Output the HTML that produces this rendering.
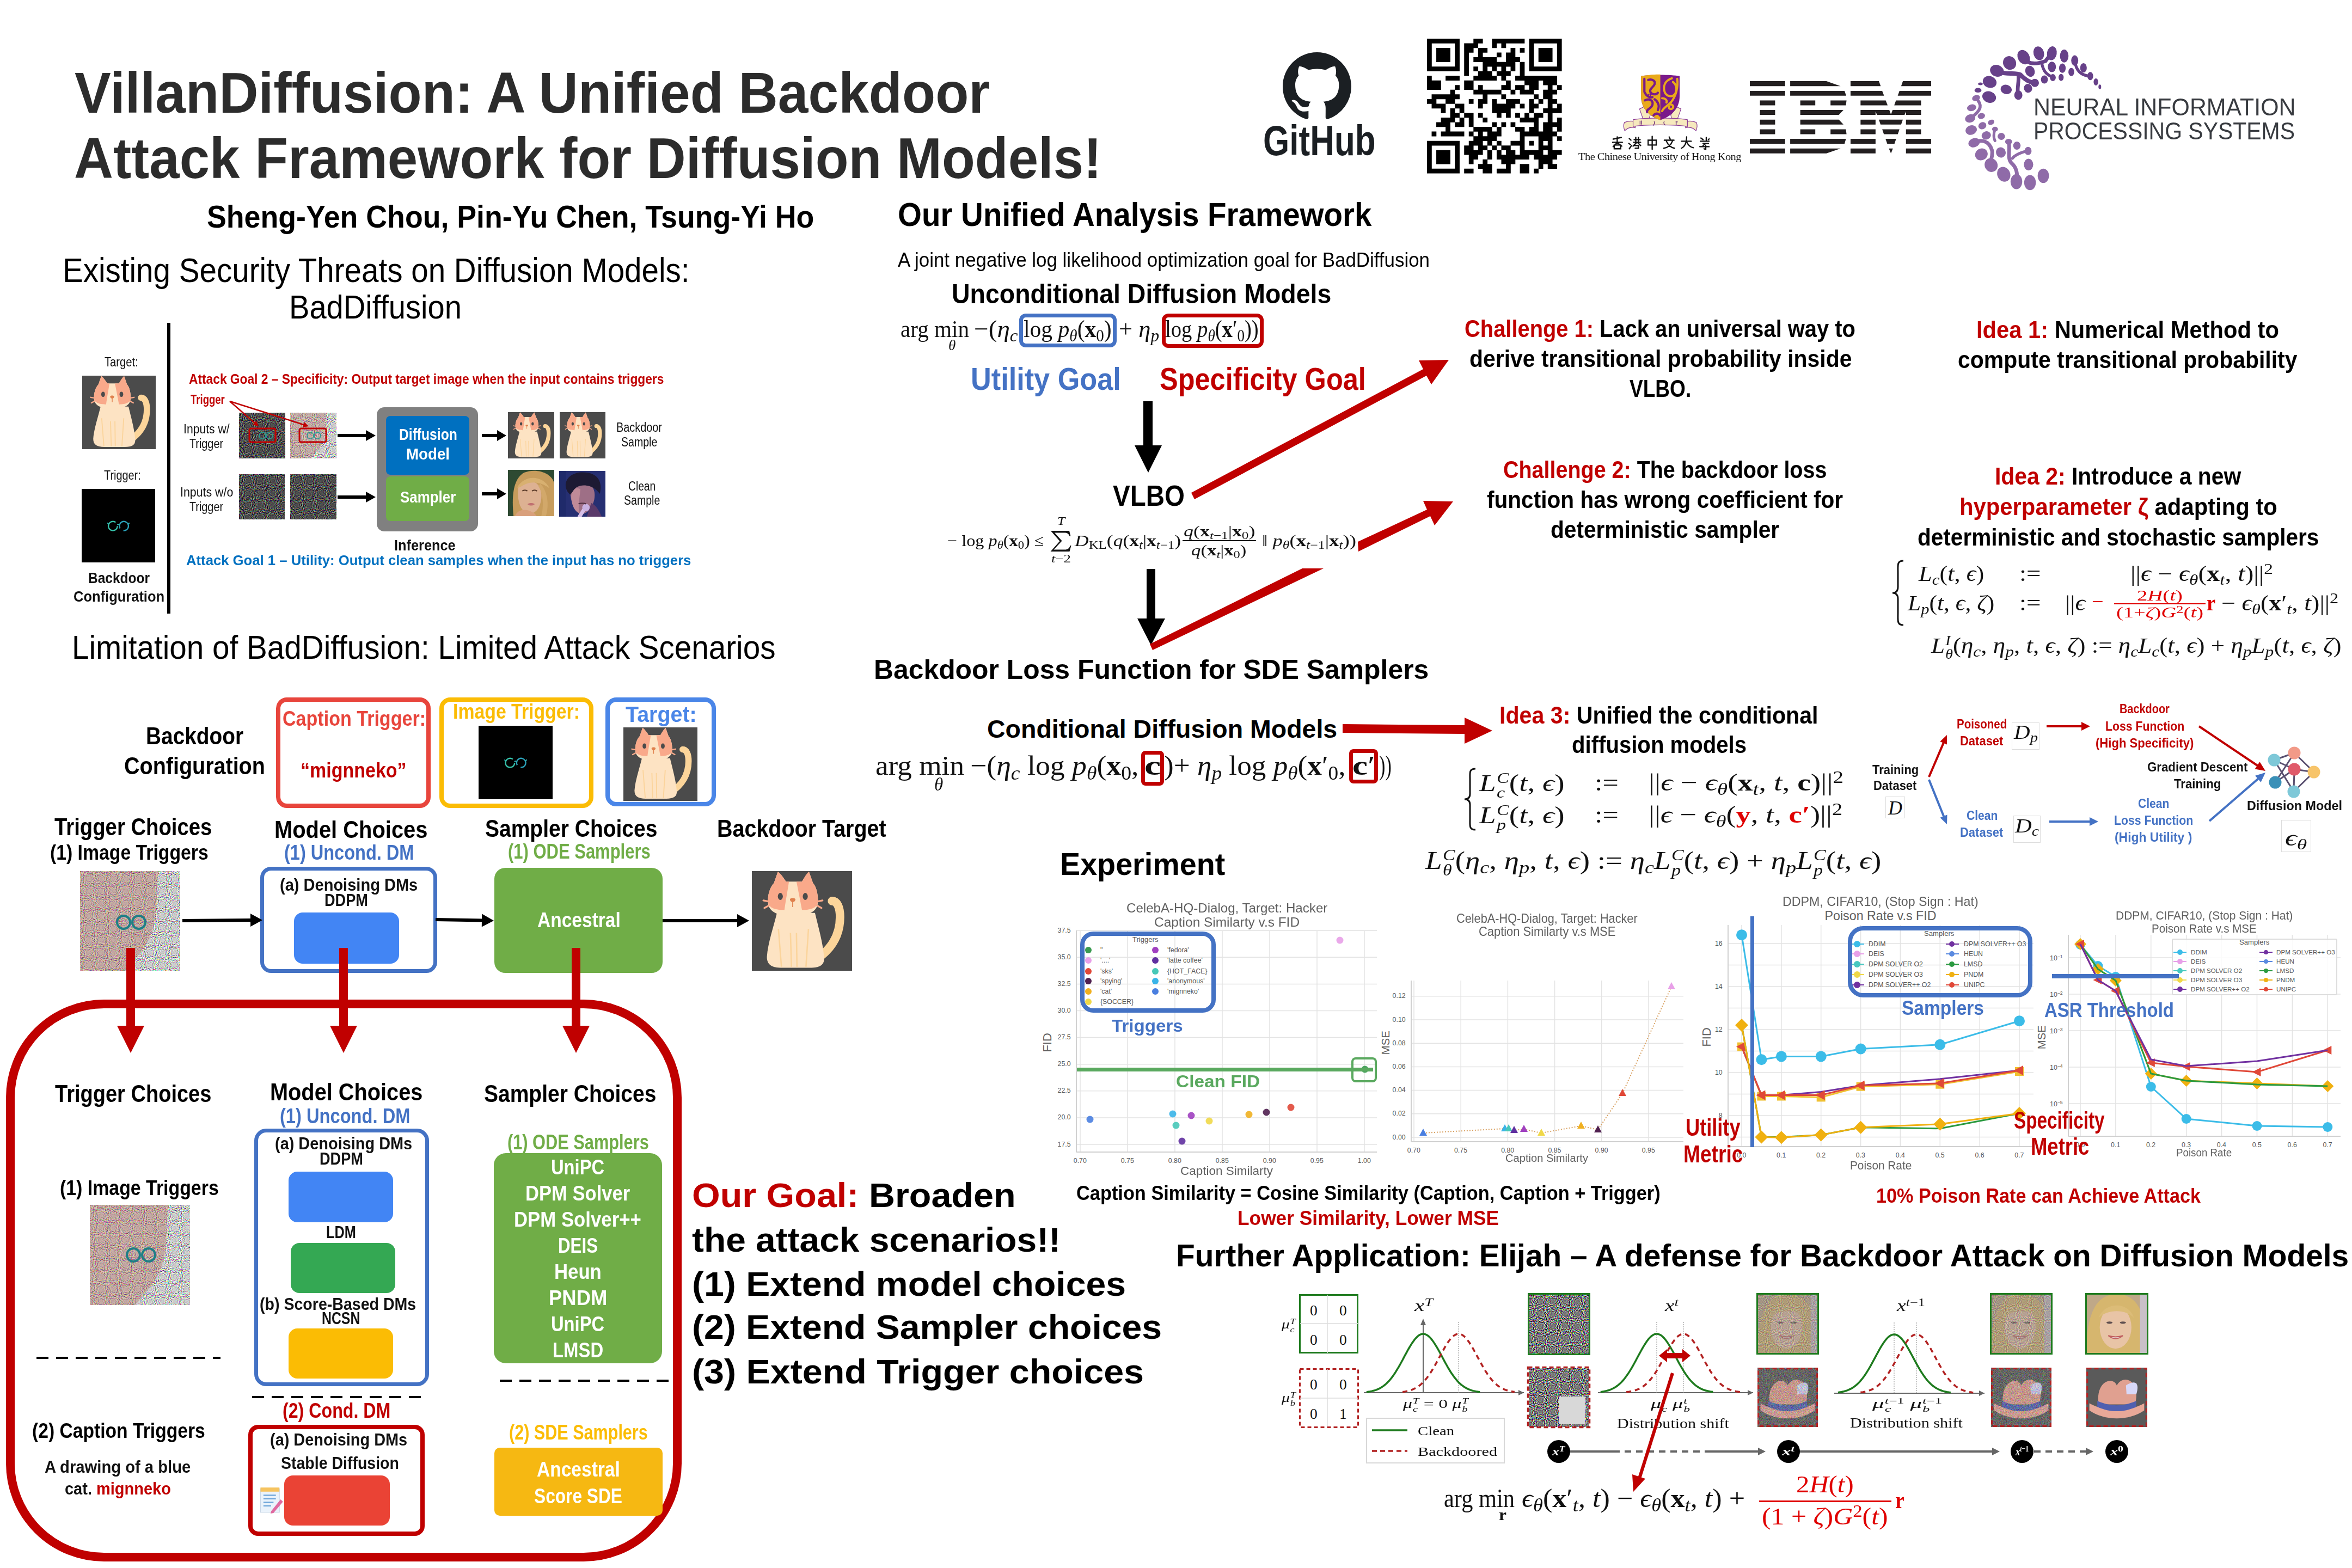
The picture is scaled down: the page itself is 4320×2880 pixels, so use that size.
<!DOCTYPE html><html><head><meta charset="utf-8"><title>VillanDiffusion poster</title><style>
*{margin:0;padding:0;box-sizing:border-box}
html,body{width:4320px;height:2880px;overflow:hidden;background:#fff}
body{position:relative;font-family:"Liberation Sans",sans-serif}
.t{position:absolute;white-space:nowrap;line-height:1;transform-origin:0 0}
.a{position:absolute}
sub,sup{font-size:70%;line-height:0}
sub{vertical-align:-0.25em}
sup{vertical-align:0.45em}
i{font-style:italic}
.ss{display:inline-block;vertical-align:middle;line-height:1;font-size:62%;text-align:left;margin-left:0.04em}
.ss>span{display:block}
</style></head><body>
<svg width="0" height="0" style="position:absolute">
<defs>
<filter id="nzf" x="0" y="0" width="100%" height="100%" color-interpolation-filters="sRGB">
 <feTurbulence type="fractalNoise" baseFrequency="0.85" numOctaves="2" seed="7"/>
 <feColorMatrix type="matrix" values="3.0 0 0 0 -1.000  0 3.0 0 0 -1.000  0 0 3.0 0 -1.000  0 0 0 0 1"/>
</filter><filter id="nzL" x="0" y="0" width="100%" height="100%" color-interpolation-filters="sRGB">
 <feTurbulence type="fractalNoise" baseFrequency="0.5" numOctaves="2" seed="3"/>
 <feColorMatrix type="matrix" values="2.6 0 0 0 -0.500  0 2.6 0 0 -0.500  0 0 2.6 0 -0.500  0 0 0 0 1"/>
 <feColorMatrix type="saturate" values="0.7"/>
</filter><filter id="nzD" x="0" y="0" width="100%" height="100%" color-interpolation-filters="sRGB">
 <feTurbulence type="fractalNoise" baseFrequency="0.5" numOctaves="2" seed="5"/>
 <feColorMatrix type="matrix" values="1.9 0 0 0 -0.650  0 1.9 0 0 -0.650  0 0 1.9 0 -0.650  0 0 0 0 1"/>
 <feColorMatrix type="saturate" values="0.55"/>
</filter><filter id="nzM" x="0" y="0" width="100%" height="100%" color-interpolation-filters="sRGB">
 <feTurbulence type="fractalNoise" baseFrequency="0.5" numOctaves="2" seed="9"/>
 <feColorMatrix type="matrix" values="3.0 0 0 0 -1.030  0 3.0 0 0 -1.030  0 0 3.0 0 -1.030  0 0 0 0 1"/>
 <feColorMatrix type="saturate" values="0.7"/>
</filter>
<symbol id="cat" viewBox="0 0 100 100">
 <rect width="100" height="100" fill="#4b4b4b"/>
 <path d="M62 90 C78 80 88 66 88 46 C88 36 85 30 80 30" stroke="#fcd59a" stroke-width="8.5" stroke-linecap="round" fill="none"/>
 <path d="M25 42 C22 55 16 72 15 86 C15 94 20 97 30 97 L58 97 C68 97 73 94 72 86 C71 72 66 55 63 42 Z" fill="#fde3c3"/>
 <path d="M26.5 58 L29.5 96 M38.5 62 L39.5 96 M44.5 62 L45 96 M56.5 58 L54 96" stroke="#fbd49c" stroke-width="1.4" fill="none"/>
 <path d="M16 30 C16 20 20 14 22 12 L26 0.5 C29 3 32 7 34 10.5 L50 10.5 C52 7 55 3 57 0.5 L61 12 C64 15 66 22 66 30 C66 40 58 45 41 45 C24 45 16 40 16 30 Z" fill="#fde3c3"/>
 <path d="M16 30 C16 20 20 14 22 12 L26 0.5 C29 3 32 7 34 10.5 L37 10.5 C36 18 34 28 32.5 39 C26 39 16 38 16 30 Z" fill="#f9a98a"/>
 <path d="M66 30 C66 20 63 14 61 12 L57 0.5 C54 3 52 7 50 10.5 L44.5 10.5 C46 18 48 28 50 39 C56 39 66 38 66 30 Z" fill="#f9a98a"/>
 <ellipse cx="28.4" cy="25.4" rx="2.5" ry="3.5" fill="#4b4b4b"/><ellipse cx="53.3" cy="25.4" rx="2.5" ry="3.5" fill="#4b4b4b"/>
 <path d="M38 28.3 C38.5 26.6 43 26.6 43.5 28.3 C43.5 30 42 31 41.3 31 L41.3 36 L40.3 36 L40.3 31 C39.5 31 38 30 38 28.3Z" fill="#e0814e"/>
 <path d="M11.5 29.5 L17 30.5 M12.5 37 L17 34.5 M70.5 29.5 L65 30.5 M69.5 37 L65 34.5" stroke="#f9a98a" stroke-width="1.8" stroke-linecap="round"/>
</symbol>
<symbol id="glasses" viewBox="0 0 100 100">
 <rect width="100" height="100" fill="#000"/>
 <circle cx="42.5" cy="50.5" r="6.2" fill="none" stroke="#35c0a8" stroke-width="1.8" stroke-dasharray="33 6"/>
 <circle cx="57.5" cy="50.5" r="6.2" fill="none" stroke="#2aa0b8" stroke-width="1.8" stroke-dasharray="33 6" transform="rotate(150 57.5 50.5)"/>
 <path d="M48.5 49 Q50 47.5 51.5 49 M36.5 48 L35 46 M63.5 48 L65 46" stroke="#30b0b0" stroke-width="1.5" fill="none"/>
</symbol>
<symbol id="woman" viewBox="0 0 100 100">
 <rect width="100" height="100" fill="#2e4a32"/>
 <path d="M12 100 C8 60 10 20 35 6 C60 -4 95 5 100 30 L100 100 Z" fill="#c79c5c"/>
 <path d="M22 40 C25 28 40 22 55 26 C68 30 74 45 72 62 C70 80 62 92 50 94 C36 95 26 84 23 66 C21 56 21 48 22 40Z" fill="#ddb192"/>
 <path d="M20 38 C35 10 75 10 90 40 C75 28 55 24 40 30 C30 34 24 40 20 38Z" fill="#d8b070"/>
 <path d="M70 30 C85 45 90 75 82 100 L72 100 C78 80 76 50 66 36Z" fill="#d2a86a"/>
 <path d="M15 100 C20 88 32 84 45 88 C55 92 60 96 62 100Z" fill="#d9a07c"/>
 <path d="M31 46 C34 43 39 43 42 46 M52 46 C55 43 60 43 63 46" stroke="#5a3a28" stroke-width="2.5" fill="none"/>
 <path d="M42 74 C46 71 54 71 58 74 C54 78 46 78 42 74Z" fill="#c07070"/>
</symbol>
<symbol id="man" viewBox="0 0 100 100">
 <rect width="100" height="100" fill="#262f72"/>
 <rect x="0" y="0" width="14" height="100" fill="#1f2a6a"/>
 <path d="M24 50 C22 32 36 22 52 24 C70 26 80 40 76 62 C72 80 62 94 48 94 C34 92 27 74 24 50Z" fill="#9e6f86"/>
 <path d="M26 55 C28 40 36 34 46 40 C44 60 40 80 44 92 C32 88 27 72 26 55Z" fill="#c08a98"/>
 <path d="M14 30 C16 8 40 0 62 4 C84 8 94 24 88 50 C82 42 74 34 60 32 C46 30 36 34 30 44 L24 52 C18 46 14 40 14 30Z" fill="#1d1a33"/>
 <path d="M70 70 C80 76 86 86 92 100 L60 100 C64 88 66 78 70 70Z" fill="#5a3a6a"/>
 <path d="M44 100 L54 84" stroke="#d8c0e8" stroke-width="8" stroke-linecap="round"/>
 <circle cx="58" cy="80" r="8" fill="#c9b2e2"/>
 <path d="M42 72 C46 70 54 70 58 72" stroke="#503040" stroke-width="2.5" fill="none"/>
</symbol>
<symbol id="notepad" viewBox="0 0 40 46">
 <rect x="2" y="4" width="32" height="40" fill="#eaf3fb" stroke="#c9d8e8"/>
 <rect x="2" y="2" width="32" height="7" fill="#f6c460"/>
 <path d="M7 15H28M7 21H28M7 27H24M7 33H20" stroke="#6aa3d8" stroke-width="2"/>
 <path d="M20 42 L36 22 L40 26 L24 45 L19 46Z" fill="#e06aa0"/>
</symbol>
</defs></svg>
<svg class="a" style="left:2356px;top:96px;z-index:3" width="126" height="126" viewBox="0 0 16 16"><path d="M8 0C3.58 0 0 3.58 0 8c0 3.54 2.29 6.53 5.47 7.59.4.07.55-.17.55-.38 0-.19-.01-.82-.01-1.49-2.01.37-2.53-.49-2.69-.94-.09-.23-.48-.94-.82-1.13-.28-.15-.68-.52-.01-.53.63-.01 1.08.58 1.23.82.72 1.21 1.87.87 2.33.66.07-.52.28-.87.51-1.07-1.78-.2-3.64-.89-3.64-3.95 0-.87.31-1.59.82-2.15-.08-.2-.36-1.02.08-2.12 0 0 .67-.21 2.2.82.64-.18 1.32-.27 2-.27.68 0 1.36.09 2 .27 1.53-1.04 2.2-.82 2.2-.82.44 1.1.16 1.92.08 2.12.51.56.82 1.27.82 2.15 0 3.07-1.87 3.75-3.65 3.95.29.25.54.73.54 1.48 0 1.070-.01 1.93-.01 2.2 0 .21.15.46.55.38A8.013 8.013 0 0016 8c0-4.42-3.58-8-8-8z" fill="#1b1f23"/></svg>
<svg class="a" style="left:2621.3px;top:71.3px;z-index:3" width="248" height="248"><path d="M0.00 0.00h59.96v8.78h-59.96zM85.30 0.00h17.31v8.78h-17.31zM119.42 0.00h59.96v8.78h-59.96zM187.66 0.00h59.96v8.78h-59.96zM0.00 8.53h8.78v8.78h-8.78zM51.18 8.53h8.78v8.78h-8.78zM68.24 8.53h25.84v8.78h-25.84zM119.42 8.53h8.78v8.78h-8.78zM136.48 8.53h8.78v8.78h-8.78zM187.66 8.53h8.78v8.78h-8.78zM238.84 8.53h8.78v8.78h-8.78zM0.00 17.06h8.78v8.78h-8.78zM17.06 17.06h25.84v8.78h-25.84zM51.18 17.06h8.78v8.78h-8.78zM68.24 17.06h17.31v8.78h-17.31zM93.83 17.06h17.31v8.78h-17.31zM153.54 17.06h8.78v8.78h-8.78zM170.60 17.06h8.78v8.78h-8.78zM187.66 17.06h8.78v8.78h-8.78zM204.72 17.06h25.84v8.78h-25.84zM238.84 17.06h8.78v8.78h-8.78zM0.00 25.59h8.78v8.78h-8.78zM17.06 25.59h25.84v8.78h-25.84zM51.18 25.59h8.78v8.78h-8.78zM68.24 25.59h8.78v8.78h-8.78zM93.83 25.59h8.78v8.78h-8.78zM127.95 25.59h8.78v8.78h-8.78zM145.01 25.59h17.31v8.78h-17.31zM187.66 25.59h8.78v8.78h-8.78zM204.72 25.59h25.84v8.78h-25.84zM238.84 25.59h8.78v8.78h-8.78zM0.00 34.12h8.78v8.78h-8.78zM17.06 34.12h25.84v8.78h-25.84zM51.18 34.12h8.78v8.78h-8.78zM68.24 34.12h8.78v8.78h-8.78zM85.30 34.12h42.90v8.78h-42.90zM145.01 34.12h25.84v8.78h-25.84zM187.66 34.12h8.78v8.78h-8.78zM204.72 34.12h25.84v8.78h-25.84zM238.84 34.12h8.78v8.78h-8.78zM0.00 42.65h8.78v8.78h-8.78zM51.18 42.65h8.78v8.78h-8.78zM68.24 42.65h8.78v8.78h-8.78zM102.36 42.65h59.96v8.78h-59.96zM170.60 42.65h8.78v8.78h-8.78zM187.66 42.65h8.78v8.78h-8.78zM238.84 42.65h8.78v8.78h-8.78zM0.00 51.18h59.96v8.78h-59.96zM68.24 51.18h8.78v8.78h-8.78zM85.30 51.18h8.78v8.78h-8.78zM102.36 51.18h8.78v8.78h-8.78zM119.42 51.18h8.78v8.78h-8.78zM136.48 51.18h8.78v8.78h-8.78zM153.54 51.18h8.78v8.78h-8.78zM170.60 51.18h8.78v8.78h-8.78zM187.66 51.18h59.96v8.78h-59.96zM68.24 59.71h8.78v8.78h-8.78zM93.83 59.71h25.84v8.78h-25.84zM127.95 59.71h25.84v8.78h-25.84zM170.60 59.71h8.78v8.78h-8.78zM0.00 68.24h8.78v8.78h-8.78zM34.12 68.24h25.84v8.78h-25.84zM85.30 68.24h42.90v8.78h-42.90zM136.48 68.24h8.78v8.78h-8.78zM162.07 68.24h77.02v8.78h-77.02zM0.00 76.77h25.84v8.78h-25.84zM68.24 76.77h17.31v8.78h-17.31zM145.01 76.77h8.78v8.78h-8.78zM179.13 76.77h25.84v8.78h-25.84zM213.25 76.77h25.84v8.78h-25.84zM0.00 85.30h25.84v8.78h-25.84zM51.18 85.30h8.78v8.78h-8.78zM68.24 85.30h17.31v8.78h-17.31zM93.83 85.30h8.78v8.78h-8.78zM136.48 85.30h17.31v8.78h-17.31zM162.07 85.30h17.31v8.78h-17.31zM187.66 85.30h17.31v8.78h-17.31zM221.78 85.30h8.78v8.78h-8.78zM238.84 85.30h8.78v8.78h-8.78zM42.65 93.83h8.78v8.78h-8.78zM85.30 93.83h51.43v8.78h-51.43zM153.54 93.83h8.78v8.78h-8.78zM170.60 93.83h25.84v8.78h-25.84zM213.25 93.83h25.84v8.78h-25.84zM8.53 102.36h51.43v8.78h-51.43zM102.36 102.36h8.78v8.78h-8.78zM136.48 102.36h8.78v8.78h-8.78zM196.19 102.36h8.78v8.78h-8.78zM213.25 102.36h17.31v8.78h-17.31zM0.00 110.89h17.31v8.78h-17.31zM34.12 110.89h17.31v8.78h-17.31zM76.77 110.89h8.78v8.78h-8.78zM93.83 110.89h17.31v8.78h-17.31zM119.42 110.89h8.78v8.78h-8.78zM145.01 110.89h25.84v8.78h-25.84zM187.66 110.89h8.78v8.78h-8.78zM204.72 110.89h8.78v8.78h-8.78zM221.78 110.89h17.31v8.78h-17.31zM8.53 119.42h25.84v8.78h-25.84zM51.18 119.42h17.31v8.78h-17.31zM93.83 119.42h8.78v8.78h-8.78zM119.42 119.42h42.90v8.78h-42.90zM170.60 119.42h8.78v8.78h-8.78zM187.66 119.42h17.31v8.78h-17.31zM221.78 119.42h8.78v8.78h-8.78zM238.84 119.42h8.78v8.78h-8.78zM25.59 127.95h8.78v8.78h-8.78zM42.65 127.95h8.78v8.78h-8.78zM59.71 127.95h8.78v8.78h-8.78zM119.42 127.95h34.37v8.78h-34.37zM187.66 127.95h8.78v8.78h-8.78zM213.25 127.95h34.37v8.78h-34.37zM42.65 136.48h17.31v8.78h-17.31zM68.24 136.48h17.31v8.78h-17.31zM93.83 136.48h8.78v8.78h-8.78zM127.95 136.48h8.78v8.78h-8.78zM145.01 136.48h8.78v8.78h-8.78zM162.07 136.48h8.78v8.78h-8.78zM179.13 136.48h8.78v8.78h-8.78zM196.19 136.48h17.31v8.78h-17.31zM221.78 136.48h8.78v8.78h-8.78zM25.59 145.01h25.84v8.78h-25.84zM59.71 145.01h8.78v8.78h-8.78zM76.77 145.01h8.78v8.78h-8.78zM102.36 145.01h8.78v8.78h-8.78zM170.60 145.01h34.37v8.78h-34.37zM221.78 145.01h8.78v8.78h-8.78zM238.84 145.01h8.78v8.78h-8.78zM17.06 153.54h25.84v8.78h-25.84zM51.18 153.54h17.31v8.78h-17.31zM76.77 153.54h8.78v8.78h-8.78zM119.42 153.54h8.78v8.78h-8.78zM136.48 153.54h8.78v8.78h-8.78zM153.54 153.54h8.78v8.78h-8.78zM196.19 153.54h8.78v8.78h-8.78zM213.25 153.54h34.37v8.78h-34.37zM34.12 162.07h8.78v8.78h-8.78zM85.30 162.07h34.37v8.78h-34.37zM127.95 162.07h8.78v8.78h-8.78zM162.07 162.07h17.31v8.78h-17.31zM187.66 162.07h17.31v8.78h-17.31zM213.25 162.07h17.31v8.78h-17.31zM238.84 162.07h8.78v8.78h-8.78zM8.53 170.60h8.78v8.78h-8.78zM25.59 170.60h42.90v8.78h-42.90zM76.77 170.60h8.78v8.78h-8.78zM93.83 170.60h8.78v8.78h-8.78zM110.89 170.60h25.84v8.78h-25.84zM170.60 170.60h68.49v8.78h-68.49zM85.30 179.13h42.90v8.78h-42.90zM170.60 179.13h8.78v8.78h-8.78zM204.72 179.13h25.84v8.78h-25.84zM238.84 179.13h8.78v8.78h-8.78zM0.00 187.66h59.96v8.78h-59.96zM76.77 187.66h25.84v8.78h-25.84zM110.89 187.66h8.78v8.78h-8.78zM127.95 187.66h8.78v8.78h-8.78zM153.54 187.66h25.84v8.78h-25.84zM187.66 187.66h8.78v8.78h-8.78zM204.72 187.66h8.78v8.78h-8.78zM221.78 187.66h8.78v8.78h-8.78zM0.00 196.19h8.78v8.78h-8.78zM51.18 196.19h8.78v8.78h-8.78zM68.24 196.19h17.31v8.78h-17.31zM93.83 196.19h17.31v8.78h-17.31zM119.42 196.19h8.78v8.78h-8.78zM136.48 196.19h17.31v8.78h-17.31zM170.60 196.19h8.78v8.78h-8.78zM204.72 196.19h25.84v8.78h-25.84zM0.00 204.72h8.78v8.78h-8.78zM17.06 204.72h25.84v8.78h-25.84zM51.18 204.72h8.78v8.78h-8.78zM68.24 204.72h34.37v8.78h-34.37zM110.89 204.72h8.78v8.78h-8.78zM127.95 204.72h8.78v8.78h-8.78zM145.01 204.72h17.31v8.78h-17.31zM170.60 204.72h42.90v8.78h-42.90zM221.78 204.72h25.84v8.78h-25.84zM0.00 213.25h8.78v8.78h-8.78zM17.06 213.25h25.84v8.78h-25.84zM51.18 213.25h8.78v8.78h-8.78zM76.77 213.25h17.31v8.78h-17.31zM110.89 213.25h8.78v8.78h-8.78zM127.95 213.25h59.96v8.78h-59.96zM196.19 213.25h42.90v8.78h-42.90zM0.00 221.78h8.78v8.78h-8.78zM17.06 221.78h25.84v8.78h-25.84zM51.18 221.78h8.78v8.78h-8.78zM76.77 221.78h8.78v8.78h-8.78zM102.36 221.78h8.78v8.78h-8.78zM136.48 221.78h25.84v8.78h-25.84zM204.72 221.78h25.84v8.78h-25.84zM0.00 230.31h8.78v8.78h-8.78zM51.18 230.31h8.78v8.78h-8.78zM93.83 230.31h25.84v8.78h-25.84zM145.01 230.31h8.78v8.78h-8.78zM170.60 230.31h17.31v8.78h-17.31zM204.72 230.31h8.78v8.78h-8.78zM221.78 230.31h17.31v8.78h-17.31zM0.00 238.84h59.96v8.78h-59.96zM68.24 238.84h17.31v8.78h-17.31zM102.36 238.84h17.31v8.78h-17.31zM127.95 238.84h25.84v8.78h-25.84zM170.60 238.84h17.31v8.78h-17.31zM196.19 238.84h8.78v8.78h-8.78z" fill="#000"/></svg>
<svg class="a" style="left:2960px;top:125px;z-index:3" width="180" height="155" viewBox="0 0 1821 1568">
<g fill="#f6e9bd" stroke="#8a3a96" stroke-width="12">
<path d="M240 1010 C320 980 400 985 440 1000 L440 1110 C370 1090 300 1110 245 1165 C220 1100 225 1040 240 1010Z"/>
<path d="M1575 1010 C1495 980 1415 985 1375 1000 L1375 1110 C1445 1090 1515 1110 1570 1165 C1595 1100 1590 1040 1575 1010Z"/>
<path d="M520 760 L600 720 L720 870 L690 960 L590 960 Z"/>
<path d="M1290 760 L1210 720 L1100 870 L1120 960 L1220 960 Z"/>
<path d="M400 960 C600 920 1210 920 1410 960 L1410 1085 C1210 1045 600 1045 400 1085 Z"/>
</g>
<g stroke="#6a2a7a" stroke-width="14" fill="none"><path d="M530 980v70M560 975v75M790 990c20 30 0 60 -20 80M980 990c-20 30 0 60 20 70M1200 990v70M1230 1000h-40"/></g>
<path d="M548 150 C700 118 1100 118 1265 150 L1265 520 C1265 760 1100 900 906 965 C712 900 548 760 548 520 Z" fill="#7a1a8a"/>
<path d="M548 150 C700 125 820 120 906 120 L906 965 C712 900 548 760 548 520 Z" fill="#e9a91a"/>
<g fill="none" stroke="#7a1a8a" stroke-width="42" stroke-linecap="round">
<path d="M610 200 L610 420 M680 220 C760 200 820 240 800 300 C780 360 700 380 720 440 C740 500 830 500 860 460"/>
<path d="M610 440 C640 520 720 560 760 540 M620 600 C700 560 780 600 760 680 C740 760 640 760 660 820"/>
<path d="M800 580 C860 620 900 700 860 780 M780 880 C820 830 880 840 900 880"/>
<circle cx="705" cy="505" r="22" stroke-width="14"/>
</g>
<g fill="none" stroke="#e9a91a" stroke-width="40" stroke-linecap="round">
<path d="M1120 190 C1000 230 960 320 980 420 C1000 520 1120 560 1180 480 C1230 400 1200 300 1140 260"/>
<path d="M1220 200 C1240 350 1200 520 1100 640 C1020 720 960 740 940 800"/>
<path d="M1060 680 C1120 660 1160 700 1140 740 C1110 780 1060 760 1070 720"/>
<path d="M940 560 C1000 560 1040 600 1020 640"/>
</g>
<g stroke="#111" stroke-width="24" fill="none" stroke-linecap="round">
<path d="M30 1320 L180 1290 M20 1380 H200 M105 1280 V1400 M100 1390 L30 1460 M110 1390 L190 1450 M50 1430 H170 V1500 H50 Z"/>
<path d="M330 1310 L360 1340 M320 1400 L350 1420 M330 1500 L370 1440 M420 1330 H530 M410 1380 H540 M450 1290 V1380 M500 1290 V1380 M470 1380 L400 1450 M480 1380 L540 1440 M430 1440 H500 V1490 H440"/>
<path d="M680 1340 H830 V1430 H680 Z M755 1270 V1510"/>
<path d="M1070 1280 L1090 1320 M980 1340 H1160 M1020 1360 C1060 1450 1120 1480 1170 1490 M1130 1360 C1100 1440 1040 1480 970 1490"/>
<path d="M1300 1360 H1480 M1395 1280 C1395 1400 1360 1460 1300 1490 M1400 1380 C1430 1440 1470 1470 1520 1480"/>
<path d="M1660 1300 L1700 1330 M1760 1290 V1340 M1830 1300 L1800 1330 M1650 1360 H1821 M1700 1400 H1800 M1740 1410 L1700 1440 M1640 1460 H1821 M1750 1440 V1510 L1720 1500"/>
</g>
</svg>
<svg class="a" style="left:3214px;top:149px;z-index:3" width="333" height="133" viewBox="92 125 2175 870" preserveAspectRatio="none"><g fill="#231f20"><polygon points="92,125 515,125 515,185 92,185"/><polygon points="92,242 515,242 515,300 92,300"/><polygon points="92,819 515,819 515,878 92,878"/><polygon points="92,935 515,935 515,994 92,994"/><polygon points="213,357 395,357 395,416 213,416"/><polygon points="213,472 395,472 395,531 213,531"/><polygon points="213,588 395,588 395,647 213,647"/><polygon points="213,704 395,704 395,763 213,763"/><polygon points="576,125 1010,125 1180,185 576,185"/><polygon points="576,242 1228,242 1248,300 576,300"/><polygon points="1060,357 1252,357 1244,416 1060,416"/><polygon points="697,472 1215,472 1160,531 697,531"/><polygon points="697,588 1160,588 1215,647 697,647"/><polygon points="1060,704 1244,704 1252,763 1060,763"/><polygon points="576,819 1245,819 1228,878 576,878"/><polygon points="576,935 1180,935 1010,994 576,994"/><polygon points="697,357 877,357 877,416 697,416"/><polygon points="697,704 877,704 877,763 697,763"/><polygon points="1300,125 1640,125 1662,185 1300,185"/><polygon points="1928,125 2267,125 2267,185 1907,185"/><polygon points="1300,242 1680,242 1702,300 1300,300"/><polygon points="1887,242 2267,242 2267,300 1866,300"/><polygon points="1420,357 1722,357 1745,416 1420,416"/><polygon points="1845,357 2146,357 2146,416 1824,416"/><polygon points="1420,472 1765,472 1785,525 1805,472 2146,472 2146,531 1965,531 1965,490 1948,531 1618,531 1600,490 1600,531 1420,531"/><polygon points="1420,588 1600,588 1600,647 1420,647"/><polygon points="1640,588 1927,588 1907,647 1660,647"/><polygon points="1965,588 2146,588 2146,647 1965,647"/><polygon points="1420,704 1600,704 1600,763 1420,763"/><polygon points="1680,704 1887,704 1867,763 1700,763"/><polygon points="1965,704 2146,704 2146,763 1965,763"/><polygon points="1300,819 1600,819 1600,878 1300,878"/><polygon points="1720,819 1847,819 1827,878 1740,878"/><polygon points="1965,819 2267,819 2267,878 1965,878"/><polygon points="1300,935 1600,935 1600,994 1300,994"/><polygon points="1760,935 1808,935 1785,994"/><polygon points="1965,935 2267,935 2267,994 1965,994"/></g></svg>
<svg class="a" style="left:3600px;top:80px;z-index:3" width="280" height="280" viewBox="0 0 1568 1568"><ellipse cx="810" cy="100" rx="54" ry="72" transform="rotate(-15 810 100)" fill="#674189"/><ellipse cx="945" cy="100" rx="50" ry="72" transform="rotate(10 945 100)" fill="#674189"/><ellipse cx="1072" cy="128" rx="44" ry="66" transform="rotate(0 1072 128)" fill="#674189"/><ellipse cx="1180" cy="175" rx="36" ry="54" transform="rotate(0 1180 175)" fill="#674189"/><ellipse cx="655" cy="140" rx="60" ry="78" transform="rotate(-30 655 140)" fill="#674189"/><ellipse cx="510" cy="200" rx="66" ry="72" transform="rotate(-30 510 200)" fill="#674189"/><ellipse cx="380" cy="280" rx="72" ry="60" transform="rotate(20 380 280)" fill="#674189"/><ellipse cx="305" cy="395" rx="72" ry="60" transform="rotate(20 305 395)" fill="#674189"/><ellipse cx="300" cy="550" rx="72" ry="58" transform="rotate(20 300 550)" fill="#674189"/><ellipse cx="475" cy="472" rx="58" ry="48" transform="rotate(15 475 472)" fill="#674189"/><ellipse cx="720" cy="285" rx="48" ry="58" transform="rotate(-20 720 285)" fill="#674189"/><ellipse cx="700" cy="460" rx="42" ry="46" transform="rotate(-20 700 460)" fill="#674189"/><ellipse cx="770" cy="405" rx="42" ry="42" transform="rotate(0 770 405)" fill="#674189"/><ellipse cx="945" cy="240" rx="42" ry="54" transform="rotate(0 945 240)" fill="#674189"/><ellipse cx="1053" cy="253" rx="34" ry="48" transform="rotate(0 1053 253)" fill="#674189"/><ellipse cx="1145" cy="292" rx="30" ry="42" transform="rotate(0 1145 292)" fill="#674189"/><ellipse cx="1270" cy="250" rx="34" ry="48" transform="rotate(0 1270 250)" fill="#674189"/><ellipse cx="868" cy="370" rx="36" ry="42" transform="rotate(0 868 370)" fill="#674189"/><ellipse cx="955" cy="350" rx="30" ry="36" transform="rotate(0 955 350)" fill="#674189"/><ellipse cx="1040" cy="348" rx="26" ry="36" transform="rotate(0 1040 348)" fill="#674189"/><ellipse cx="600" cy="530" rx="42" ry="48" transform="rotate(0 600 530)" fill="#674189"/><ellipse cx="1340" cy="335" rx="30" ry="42" transform="rotate(0 1340 335)" fill="#674189"/><ellipse cx="1398" cy="395" rx="24" ry="36" transform="rotate(0 1398 395)" fill="#674189"/><ellipse cx="1438" cy="445" rx="14" ry="24" transform="rotate(0 1438 445)" fill="#674189"/><ellipse cx="210" cy="415" rx="24" ry="14" transform="rotate(0 210 415)" fill="#674189"/><ellipse cx="185" cy="480" rx="36" ry="24" transform="rotate(0 185 480)" fill="#674189"/><ellipse cx="165" cy="560" rx="42" ry="30" transform="rotate(-20 165 560)" fill="#8f6ba8"/><ellipse cx="120" cy="660" rx="48" ry="34" transform="rotate(-15 120 660)" fill="#8f6ba8"/><ellipse cx="105" cy="770" rx="54" ry="42" transform="rotate(-20 105 770)" fill="#8f6ba8"/><ellipse cx="220" cy="745" rx="38" ry="30" transform="rotate(-15 220 745)" fill="#8f6ba8"/><ellipse cx="320" cy="810" rx="34" ry="26" transform="rotate(-25 320 810)" fill="#8f6ba8"/><ellipse cx="230" cy="845" rx="42" ry="36" transform="rotate(-25 230 845)" fill="#8f6ba8"/><ellipse cx="115" cy="890" rx="60" ry="48" transform="rotate(-20 115 890)" fill="#8f6ba8"/><ellipse cx="360" cy="880" rx="30" ry="24" transform="rotate(0 360 880)" fill="#8f6ba8"/><ellipse cx="270" cy="945" rx="48" ry="42" transform="rotate(-20 270 945)" fill="#8f6ba8"/><ellipse cx="425" cy="955" rx="38" ry="36" transform="rotate(0 425 955)" fill="#8f6ba8"/><ellipse cx="145" cy="1020" rx="60" ry="46" transform="rotate(-20 145 1020)" fill="#8f6ba8"/><ellipse cx="220" cy="1140" rx="66" ry="60" transform="rotate(-30 220 1140)" fill="#8f6ba8"/><ellipse cx="420" cy="1120" rx="50" ry="54" transform="rotate(-20 420 1120)" fill="#8f6ba8"/><ellipse cx="500" cy="1010" rx="36" ry="30" transform="rotate(0 500 1010)" fill="#8f6ba8"/><ellipse cx="585" cy="1050" rx="38" ry="42" transform="rotate(0 585 1050)" fill="#8f6ba8"/><ellipse cx="700" cy="1105" rx="36" ry="42" transform="rotate(0 700 1105)" fill="#8f6ba8"/><ellipse cx="320" cy="1250" rx="66" ry="72" transform="rotate(-25 320 1250)" fill="#8f6ba8"/><ellipse cx="450" cy="1345" rx="66" ry="78" transform="rotate(-25 450 1345)" fill="#8f6ba8"/><ellipse cx="580" cy="1420" rx="60" ry="78" transform="rotate(0 580 1420)" fill="#8f6ba8"/><ellipse cx="705" cy="1245" rx="48" ry="60" transform="rotate(0 705 1245)" fill="#8f6ba8"/><ellipse cx="720" cy="1430" rx="60" ry="78" transform="rotate(0 720 1430)" fill="#8f6ba8"/><ellipse cx="857" cy="1360" rx="58" ry="74" transform="rotate(0 857 1360)" fill="#8f6ba8"/><g fill="none" stroke="#674189" stroke-linecap="round"><path d="M380 280 C480 330 560 290 620 320 C680 380 720 400 770 405" stroke-width="45"/><path d="M600 320 C610 400 580 470 600 530" stroke-width="38"/><path d="M655 140 C700 230 800 210 880 180 C900 150 920 130 945 100" stroke-width="38"/><path d="M840 200 C860 300 900 320 955 350" stroke-width="30"/><path d="M1180 175 C1190 260 1230 330 1340 335" stroke-width="30"/></g><g fill="none" stroke="#8f6ba8" stroke-linecap="round"><path d="M165 560 C230 630 230 680 105 770" stroke-width="32"/><path d="M145 1020 C220 980 300 1000 330 1100 C340 1180 300 1220 320 1250" stroke-width="38"/><path d="M360 880 C340 940 350 980 360 1000" stroke-width="28"/><path d="M500 1010 C520 1080 480 1180 530 1230 C600 1290 590 1370 580 1420" stroke-width="38"/><path d="M700 1105 C640 1110 560 1150 540 1180" stroke-width="30"/></g></svg>
<svg class="a" style="left:151px;top:690px;z-index:2" width="135" height="135" viewBox="0 0 100 100" preserveAspectRatio="none"><use href="#cat" width="100" height="100"/></svg>
<svg class="a" style="left:150px;top:898px;z-index:2" width="135" height="135" viewBox="0 0 100 100" preserveAspectRatio="none"><use href="#glasses" width="100" height="100"/></svg>
<div class="a" style="left:307px;top:593px;width:6px;height:534px;z-index:1;background:#000;"></div>
<svg class="a" style="left:439px;top:758px;z-index:2" width="85" height="84"><rect width="85" height="84" filter="url(#nzD)"/></svg>
<svg class="a" style="left:533px;top:758px;z-index:2" width="85" height="84"><rect width="85" height="84" filter="url(#nzL)"/><path d="M0 0 L66 0 C64 25 68 46 53 67 L38 84 L0 84Z" fill="#b07060" opacity="0.55"/><rect width="85" height="84" filter="url(#nzL)" opacity="0.4"/></svg>
<svg class="a" style="left:439px;top:871px;z-index:2" width="84" height="83"><rect width="84" height="83" filter="url(#nzD)"/></svg>
<svg class="a" style="left:533px;top:871px;z-index:2" width="85" height="83"><rect width="85" height="83" filter="url(#nzD)"/></svg>
<svg class="a" style="left:430px;top:730px;z-index:4;overflow:visible" width="200" height="100" viewBox="0 0 200 100"><g fill="none" stroke="#2a9a90" stroke-width="1.6"><circle cx="52" cy="70" r="6"/><circle cx="65" cy="70" r="6"/><circle cx="140" cy="70" r="6"/><circle cx="153" cy="70" r="6"/></g>
<rect x="28" y="57" width="48" height="25" fill="none" stroke="#c00000" stroke-width="3" rx="3"/>
<rect x="120" y="57" width="49" height="25" fill="none" stroke="#c00000" stroke-width="3" rx="3"/></svg>
<svg class="a" style="left:400px;top:720px;z-index:5;overflow:visible" width="200" height="100" viewBox="0 0 200 100"><line x1="22.0" y1="17.0" x2="68.2" y2="57.1" stroke="#c00000" stroke-width="2.5"/><polygon points="75.0,63.0 64.2,60.2 70.7,52.7" fill="#c00000"/><line x1="22.0" y1="17.0" x2="158.4" y2="60.3" stroke="#c00000" stroke-width="2.5"/><polygon points="167.0,63.0 156.0,64.7 159.0,55.2" fill="#c00000"/></svg>
<svg class="a" style="left:610px;top:780px;z-index:3;overflow:visible" width="100" height="150" viewBox="0 0 100 150"><line x1="10.0" y1="20.0" x2="63.0" y2="20.0" stroke="#000" stroke-width="6"/><polygon points="80.0,20.0 62.0,30.0 62.0,10.0" fill="#000"/><line x1="10.0" y1="133.0" x2="63.0" y2="133.0" stroke="#000" stroke-width="6"/><polygon points="80.0,133.0 62.0,143.0 62.0,123.0" fill="#000"/></svg>
<div class="a" style="left:692px;top:748px;width:186px;height:228px;z-index:1;background:#808080;border-radius:14px;"></div>
<div class="a" style="left:709px;top:764px;width:153px;height:108px;z-index:2;background:#0070c0;border-radius:8px;"></div>
<div class="a" style="left:709px;top:875px;width:153px;height:82px;z-index:2;background:#70ad47;border-radius:8px;"></div>
<svg class="a" style="left:880px;top:780px;z-index:3;overflow:visible" width="60" height="150" viewBox="0 0 60 150"><line x1="5.0" y1="20.0" x2="34.0" y2="20.0" stroke="#000" stroke-width="6"/><polygon points="50.0,20.0 33.0,30.0 33.0,10.0" fill="#000"/><line x1="5.0" y1="127.0" x2="34.0" y2="127.0" stroke="#000" stroke-width="6"/><polygon points="50.0,127.0 33.0,137.0 33.0,117.0" fill="#000"/></svg>
<svg class="a" style="left:933px;top:757px;z-index:2" width="85" height="85" viewBox="0 0 100 100" preserveAspectRatio="none"><use href="#cat" width="100" height="100"/></svg>
<svg class="a" style="left:1028px;top:757px;z-index:2" width="84" height="85" viewBox="0 0 100 100" preserveAspectRatio="none"><use href="#cat" width="100" height="100"/></svg>
<svg class="a" style="left:933px;top:863px;z-index:2" width="85" height="85" viewBox="0 0 100 100" preserveAspectRatio="none"><use href="#woman" width="100" height="100"/></svg>
<svg class="a" style="left:1027px;top:865px;z-index:2" width="85" height="84" viewBox="0 0 100 100" preserveAspectRatio="none"><use href="#man" width="100" height="100"/></svg>
<div class="a" style="left:507px;top:1281px;width:284px;height:203px;z-index:1;background:#fff;border:8px solid #e8453c;border-radius:20px;"></div>
<div class="a" style="left:807px;top:1281px;width:283px;height:203px;z-index:1;background:#fff;border:8px solid #fbbc04;border-radius:20px;"></div>
<svg class="a" style="left:879px;top:1333px;z-index:2" width="136" height="135" viewBox="0 0 100 100" preserveAspectRatio="none"><use href="#glasses" width="100" height="100"/></svg>
<div class="a" style="left:1112px;top:1281px;width:203px;height:200px;z-index:1;background:#fff;border:8px solid #4a86e8;border-radius:20px;"></div>
<svg class="a" style="left:1145px;top:1336px;z-index:2" width="136" height="135" viewBox="0 0 100 100" preserveAspectRatio="none"><use href="#cat" width="100" height="100"/></svg>
<svg class="a" style="left:147px;top:1600px;z-index:2" width="184" height="183"><rect width="184" height="183" filter="url(#nzL)"/><path d="M0 0 L144 0 C138 55 147 101 114 146 L83 183 L0 183Z" fill="#b06050" opacity="0.55"/><rect width="184" height="183" filter="url(#nzL)" opacity="0.4"/></svg>
<svg class="a" style="left:147px;top:1600px;z-index:3;overflow:visible" width="184" height="183" viewBox="0 0 184 183"><g fill="none" stroke="#1f7f86" stroke-width="4"><circle cx="80" cy="94" r="12"/><circle cx="108" cy="94" r="12"/></g></svg>
<div class="a" style="left:478px;top:1592px;width:325px;height:195px;z-index:1;background:#fff;border:7px solid #4472c4;border-radius:20px;"></div>
<div class="a" style="left:540px;top:1676px;width:193px;height:94px;z-index:2;background:#4285f4;border-radius:16px;"></div>
<div class="a" style="left:908px;top:1594px;width:309px;height:193px;z-index:1;background:#70ad47;border-radius:20px;"></div>
<svg class="a" style="left:1381px;top:1600px;z-index:2" width="184" height="183" viewBox="0 0 100 100" preserveAspectRatio="none"><use href="#cat" width="100" height="100"/></svg>
<svg class="a" style="left:330px;top:1670px;z-index:3;overflow:visible" width="1060" height="50" viewBox="0 0 1060 50"><line x1="5.0" y1="21.0" x2="131.0" y2="20.1" stroke="#000" stroke-width="6"/><polygon points="152.0,20.0 130.1,32.1 129.9,8.1" fill="#000"/><line x1="470.0" y1="19.0" x2="556.0" y2="20.6" stroke="#000" stroke-width="6"/><polygon points="577.0,21.0 554.8,32.6 555.2,8.6" fill="#000"/><line x1="887.0" y1="21.0" x2="1025.0" y2="21.0" stroke="#000" stroke-width="6"/><polygon points="1046.0,21.0 1024.0,33.0 1024.0,9.0" fill="#000"/></svg>
<div class="a" style="left:11px;top:1836px;width:1241px;height:1032px;z-index:1;border:16px solid #c00000;border-radius:180px;"></div>
<svg class="a" style="left:200px;top:1730px;z-index:6;overflow:visible" width="900" height="220" viewBox="0 0 900 220"><line x1="40.0" y1="11.0" x2="40.0" y2="155.0" stroke="#c00000" stroke-width="16"/><polygon points="40.0,204.0 15.0,154.0 65.0,154.0" fill="#c00000"/><line x1="431.0" y1="11.0" x2="431.0" y2="155.0" stroke="#c00000" stroke-width="16"/><polygon points="431.0,204.0 406.0,154.0 456.0,154.0" fill="#c00000"/><line x1="858.0" y1="11.0" x2="858.0" y2="155.0" stroke="#c00000" stroke-width="16"/><polygon points="858.0,204.0 833.0,154.0 883.0,154.0" fill="#c00000"/></svg>
<div class="a" style="left:467px;top:2073px;width:321px;height:473px;z-index:1;background:#fff;border:7px solid #4472c4;border-radius:22px;"></div>
<div class="a" style="left:530px;top:2152px;width:192px;height:93px;z-index:2;background:#4285f4;border-radius:16px;"></div>
<div class="a" style="left:534px;top:2283px;width:192px;height:92px;z-index:2;background:#34a853;border-radius:16px;"></div>
<div class="a" style="left:530px;top:2440px;width:192px;height:92px;z-index:2;background:#fbbc04;border-radius:16px;"></div>
<svg class="a" style="left:60px;top:2480px;z-index:2;overflow:visible" width="1200" height="70" viewBox="0 0 1200 70"><g stroke="#000" stroke-width="4" stroke-dasharray="22 14"><line x1="7" y1="14" x2="345" y2="14"/><line x1="403" y1="86" x2="723" y2="86"/><line x1="858" y1="56" x2="1176" y2="56"/></g></svg>
<div class="a" style="left:456px;top:2617px;width:324px;height:204px;z-index:1;background:#fff;border:8px solid #c00000;border-radius:18px;"></div>
<div class="a" style="left:522px;top:2710px;width:194px;height:92px;z-index:2;background:#ea4335;border-radius:16px;"></div>
<svg class="a" style="left:476px;top:2730px;z-index:3" width="44" height="50" viewBox="0 0 40 46"><use href="#notepad"/></svg>
<svg class="a" style="left:165px;top:2213px;z-index:2" width="184" height="184"><rect width="184" height="184" filter="url(#nzL)"/><path d="M0 0 L144 0 C138 55 147 101 114 147 L83 184 L0 184Z" fill="#b06050" opacity="0.55"/><rect width="184" height="184" filter="url(#nzL)" opacity="0.4"/></svg>
<svg class="a" style="left:165px;top:2213px;z-index:3;overflow:visible" width="184" height="184" viewBox="0 0 184 184"><g fill="none" stroke="#1f7f86" stroke-width="4"><circle cx="80" cy="92" r="12"/><circle cx="108" cy="92" r="12"/></g></svg>
<div class="a" style="left:907px;top:2118px;width:309px;height:386px;z-index:1;background:#70ad47;border-radius:22px;"></div>
<div class="a" style="left:908px;top:2659px;width:309px;height:125px;z-index:1;background:#f6b812;border-radius:10px;"></div>
<div class="a" style="left:1872px;top:576px;width:179px;height:62px;z-index:4;border:7px solid #4472c4;border-radius:12px;"></div>
<div class="a" style="left:2134px;top:576px;width:187px;height:63px;z-index:4;border:7px solid #c00000;border-radius:12px;"></div>
<svg class="a" style="left:2070px;top:730px;z-index:3;overflow:visible" width="90" height="470" viewBox="0 0 90 470"><polygon points="30,7 47,7 47,88 64,88 39,138 14,88 30,88" fill="#000"/><polygon points="36,315 52,315 52,406 70,406 44,455 19,406 36,406" fill="#000"/></svg>
<svg class="a" style="left:1929px;top:974px;z-index:3;overflow:visible" width="40" height="40" viewBox="0 0 40 40"><path d="M1 1 H35 L37.5 11 H35.5 C34 6 31 4.5 26 4.5 H8 L21.5 19.5 L6.5 35.5 H27 C32 35.5 35 33.5 36.5 28 H38.5 L35.5 39 H0.5 L17.5 20 L1 1Z" fill="#111"/></svg>
<div class="a" style="left:2172px;top:992px;width:135px;height:2px;z-index:3;background:#111;"></div>
<svg class="a" style="left:2100px;top:640px;z-index:6;overflow:visible" width="680" height="560" viewBox="0 0 680 560">
<polygon points="88,265 514,38 506,22 561,21 529,66 520,50 94,277" fill="#c00000"/>
<polygon points="394,355 521,296 514,280 569,281 535,325 527,308 395,373" fill="#c00000"/>
<polygon points="12,543 292,404 331,404 17,554" fill="#c00000"/>
</svg>
<svg class="a" style="left:2460px;top:1310px;z-index:3;overflow:visible" width="300" height="70" viewBox="0 0 300 70"><polygon points="6,20 230,22 230,8 281,32 230,56 230,38 6,36" fill="#c00000"/></svg>
<div class="a" style="left:2096px;top:1379px;width:42px;height:64px;z-index:4;border:7px solid #c00000;border-radius:8px;"></div>
<div class="a" style="left:2478px;top:1376px;width:53px;height:63px;z-index:4;border:7px solid #c00000;border-radius:8px;"></div>
<svg class="a" style="left:3474px;top:1028px;z-index:3;overflow:visible" width="24" height="122" viewBox="0 0 24 122"><path d="M22 2 C10 2 12 10 12 24 L12 50 C12 58 8 61 2 61 C8 61 12 64 12 72 L12 98 C12 112 10 120 22 120" fill="none" stroke="#111" stroke-width="3"/></svg>
<div class="a" style="left:3883px;top:1108px;width:168px;height:2px;z-index:3;background:#e00000;"></div>
<svg class="a" style="left:2688px;top:1410px;z-index:3;overflow:visible" width="24" height="116" viewBox="0 0 24 116"><path d="M22 2 C10 2 12 10 12 22 L12 48 C12 55 8 58 2 58 C8 58 12 61 12 68 L12 94 C12 106 10 114 22 114" fill="none" stroke="#111" stroke-width="3"/></svg>
<div class="a" style="left:3463px;top:1463px;width:36px;height:40px;z-index:1;border:1px solid #ddd;"></div>
<div class="a" style="left:3695px;top:1327px;width:51px;height:50px;z-index:1;border:1px solid #ddd;"></div>
<div class="a" style="left:3698px;top:1498px;width:50px;height:50px;z-index:1;border:1px solid #ddd;"></div>
<div class="a" style="left:4190px;top:1506px;width:55px;height:59px;z-index:1;border:1px solid #ddd;"></div>
<svg class="a" style="left:3530px;top:1300px;z-index:3;overflow:visible" width="800" height="260" viewBox="0 0 800 260"><line x1="13.0" y1="127.0" x2="40.1" y2="63.8" stroke="#c00000" stroke-width="4"/><polygon points="46.0,50.0 46.1,67.5 33.3,61.9" fill="#c00000"/><line x1="13.0" y1="132.0" x2="40.4" y2="200.1" stroke="#4472c4" stroke-width="4"/><polygon points="46.0,214.0 33.5,201.8 46.5,196.5" fill="#4472c4"/><line x1="229.0" y1="34.0" x2="294.0" y2="34.0" stroke="#c00000" stroke-width="4"/><polygon points="309.0,34.0 293.0,42.0 293.0,26.0" fill="#c00000"/><line x1="234.0" y1="209.0" x2="309.0" y2="209.0" stroke="#4472c4" stroke-width="4"/><polygon points="324.0,209.0 308.0,217.0 308.0,201.0" fill="#4472c4"/><line x1="509.0" y1="34.0" x2="616.9" y2="106.5" stroke="#c00000" stroke-width="4"/><polygon points="631.0,116.0 611.6,112.6 620.5,99.3" fill="#c00000"/><line x1="528.0" y1="208.0" x2="618.1" y2="130.1" stroke="#4472c4" stroke-width="4"/><polygon points="631.0,119.0 622.6,136.8 612.1,124.7" fill="#4472c4"/><g stroke="#5a5070" stroke-width="3"><line x1="647" y1="96" x2="684" y2="83"/><line x1="647" y1="96" x2="684" y2="113"/><line x1="647" y1="96" x2="683" y2="154"/><line x1="649" y1="137" x2="684" y2="83"/><line x1="649" y1="137" x2="684" y2="113"/><line x1="684" y1="83" x2="720" y2="118"/><line x1="684" y1="113" x2="720" y2="118"/><line x1="684" y1="113" x2="683" y2="154"/><line x1="683" y1="154" x2="720" y2="118"/></g>
    <circle cx="647" cy="96" r="11.5" fill="#7ec8d8"/><circle cx="684" cy="83" r="11.5" fill="#f29a88"/><circle cx="684" cy="113" r="11.5" fill="#e05a6a"/><circle cx="720" cy="118" r="11.5" fill="#f7c46a"/><circle cx="649" cy="137" r="11.5" fill="#3a90b8"/><circle cx="683" cy="154" r="11.5" fill="#7ec8d8"/></svg>
<svg class="a" style="left:1977px;top:1709px;z-index:1;overflow:visible" width="552" height="407" viewBox="0 0 552 407"><line x1="7.0" y1="0" x2="7.0" y2="407" stroke="#e3e3e3" stroke-width="1.5"/><line x1="94.0" y1="0" x2="94.0" y2="407" stroke="#e3e3e3" stroke-width="1.5"/><line x1="181.0" y1="0" x2="181.0" y2="407" stroke="#e3e3e3" stroke-width="1.5"/><line x1="268.0" y1="0" x2="268.0" y2="407" stroke="#e3e3e3" stroke-width="1.5"/><line x1="355.0" y1="0" x2="355.0" y2="407" stroke="#e3e3e3" stroke-width="1.5"/><line x1="442.0" y1="0" x2="442.0" y2="407" stroke="#e3e3e3" stroke-width="1.5"/><line x1="529.0" y1="0" x2="529.0" y2="407" stroke="#e3e3e3" stroke-width="1.5"/><line x1="0" y1="393.0" x2="552" y2="393.0" stroke="#e3e3e3" stroke-width="1.5"/><line x1="0" y1="343.9" x2="552" y2="343.9" stroke="#e3e3e3" stroke-width="1.5"/><line x1="0" y1="294.8" x2="552" y2="294.8" stroke="#e3e3e3" stroke-width="1.5"/><line x1="0" y1="245.7" x2="552" y2="245.7" stroke="#e3e3e3" stroke-width="1.5"/><line x1="0" y1="196.6" x2="552" y2="196.6" stroke="#e3e3e3" stroke-width="1.5"/><line x1="0" y1="147.5" x2="552" y2="147.5" stroke="#e3e3e3" stroke-width="1.5"/><line x1="0" y1="98.4" x2="552" y2="98.4" stroke="#e3e3e3" stroke-width="1.5"/><line x1="0" y1="49.3" x2="552" y2="49.3" stroke="#e3e3e3" stroke-width="1.5"/><line x1="0" y1="0.2" x2="552" y2="0.2" stroke="#e3e3e3" stroke-width="1.5"/><line x1="0" y1="0" x2="0" y2="407" stroke="#d0d0d0" stroke-width="2"/><line x1="0" y1="407" x2="552" y2="407" stroke="#d0d0d0" stroke-width="2"/></svg>
<div class="t" style="left:1724px;top:1904.1px;width:400px;text-align:center;font-size:21.8px;color:#606060;transform:rotate(-90deg);transform-origin:50% 50%;z-index:5">FID</div>
<svg class="a" style="left:1960px;top:1700px;z-index:2;overflow:visible" width="580" height="420" viewBox="0 0 580 420"><circle cx="42" cy="356" r="6.5" fill="#4a7fe0" opacity="0.9"/><circle cx="194" cy="346" r="6.5" fill="#3ab4e8" opacity="0.9"/><circle cx="200" cy="367" r="6.5" fill="#48c8b8" opacity="0.9"/><circle cx="228" cy="349" r="6.5" fill="#a040c0" opacity="0.9"/><circle cx="211" cy="396" r="6.5" fill="#6030a0" opacity="0.9"/><circle cx="261" cy="359" r="6.5" fill="#f0d848" opacity="0.9"/><circle cx="334" cy="347" r="6.5" fill="#f0b020" opacity="0.9"/><circle cx="366" cy="343" r="6.5" fill="#502050" opacity="0.9"/><circle cx="411" cy="334" r="6.5" fill="#e04838" opacity="0.9"/><circle cx="501" cy="27" r="6.5" fill="#e8a0e8" opacity="0.9"/><circle cx="547" cy="264" r="6.5" fill="#3a9a50" opacity="0.9"/></svg>
<svg class="a" style="left:1980px;top:1710px;z-index:3;overflow:visible" width="260" height="160" viewBox="0 0 260 160"><circle cx="19" cy="35" r="6" fill="#3a9a50"/><circle cx="19" cy="54" r="6" fill="#e8a0e8"/><circle cx="19" cy="74" r="6" fill="#e04838"/><circle cx="19" cy="92" r="6" fill="#502050"/><circle cx="19" cy="111" r="6" fill="#f0b020"/><circle cx="19" cy="130" r="6" fill="#f0d848"/><circle cx="142" cy="35" r="6" fill="#a040c0"/><circle cx="142" cy="54" r="6" fill="#6030a0"/><circle cx="142" cy="74" r="6" fill="#48c8b8"/><circle cx="142" cy="92" r="6" fill="#3ab4e8"/><circle cx="142" cy="111" r="6" fill="#4a7fe0"/></svg>
<div class="a" style="left:1984px;top:1711px;width:249px;height:149px;z-index:4;border:8px solid #4472c4;border-radius:24px;"></div>
<div class="a" style="left:1978px;top:1961px;width:544px;height:7px;z-index:4;background:#5aa95f;"></div>
<div class="a" style="left:2482px;top:1942px;width:47px;height:46px;z-index:4;border:4px solid #5aa95f;border-radius:8px;"></div>
<svg class="a" style="left:2592px;top:1801px;z-index:1;overflow:visible" width="500" height="296" viewBox="0 0 500 296"><line x1="5.0" y1="0" x2="5.0" y2="296" stroke="#e3e3e3" stroke-width="1.5"/><line x1="91.2" y1="0" x2="91.2" y2="296" stroke="#e3e3e3" stroke-width="1.5"/><line x1="177.4" y1="0" x2="177.4" y2="296" stroke="#e3e3e3" stroke-width="1.5"/><line x1="263.6" y1="0" x2="263.6" y2="296" stroke="#e3e3e3" stroke-width="1.5"/><line x1="349.8" y1="0" x2="349.8" y2="296" stroke="#e3e3e3" stroke-width="1.5"/><line x1="436.0" y1="0" x2="436.0" y2="296" stroke="#e3e3e3" stroke-width="1.5"/><line x1="0" y1="288.0" x2="500" y2="288.0" stroke="#e3e3e3" stroke-width="1.5"/><line x1="0" y1="244.8" x2="500" y2="244.8" stroke="#e3e3e3" stroke-width="1.5"/><line x1="0" y1="201.6" x2="500" y2="201.6" stroke="#e3e3e3" stroke-width="1.5"/><line x1="0" y1="158.4" x2="500" y2="158.4" stroke="#e3e3e3" stroke-width="1.5"/><line x1="0" y1="115.2" x2="500" y2="115.2" stroke="#e3e3e3" stroke-width="1.5"/><line x1="0" y1="72.0" x2="500" y2="72.0" stroke="#e3e3e3" stroke-width="1.5"/><line x1="0" y1="28.8" x2="500" y2="28.8" stroke="#e3e3e3" stroke-width="1.5"/><line x1="0" y1="0" x2="0" y2="296" stroke="#d0d0d0" stroke-width="2"/><line x1="0" y1="296" x2="500" y2="296" stroke="#d0d0d0" stroke-width="2"/></svg>
<div class="t" style="left:2345px;top:1904.8px;width:400px;text-align:center;font-size:20.3px;color:#606060;transform:rotate(-90deg);transform-origin:50% 50%;z-index:5">MSE</div>
<svg class="a" style="left:2580px;top:1790px;z-index:2;overflow:visible" width="520" height="320" viewBox="0 0 520 320"><polyline points="34,291 184,283 191,283 201,286 219,284 251,291 324,278 355,285 400,218 490,22" fill="none" stroke="#d8a060" stroke-width="2" stroke-dasharray="2 3"/><polygon points="34,283 27,296 41,296" fill="#4a7fe0"/><polygon points="184,275 177,288 191,288" fill="#3ab4e8"/><polygon points="191,275 184,288 198,288" fill="#48c8b8"/><polygon points="201,278 194,291 208,291" fill="#6030a0"/><polygon points="219,276 212,289 226,289" fill="#a040c0"/><polygon points="251,283 244,296 258,296" fill="#f0d848"/><polygon points="324,270 317,283 331,283" fill="#f0b020"/><polygon points="355,277 348,290 362,290" fill="#502050"/><polygon points="400,210 393,223 407,223" fill="#e04838"/><polygon points="490,14 483,27 497,27" fill="#e8a0e8"/></svg>
<svg class="a" style="left:3174px;top:1699px;z-index:1;overflow:visible" width="561" height="407" viewBox="0 0 561 407"><line x1="25.0" y1="0" x2="25.0" y2="407" stroke="#e3e3e3" stroke-width="1.5"/><line x1="97.9" y1="0" x2="97.9" y2="407" stroke="#e3e3e3" stroke-width="1.5"/><line x1="170.7" y1="0" x2="170.7" y2="407" stroke="#e3e3e3" stroke-width="1.5"/><line x1="243.6" y1="0" x2="243.6" y2="407" stroke="#e3e3e3" stroke-width="1.5"/><line x1="316.4" y1="0" x2="316.4" y2="407" stroke="#e3e3e3" stroke-width="1.5"/><line x1="389.3" y1="0" x2="389.3" y2="407" stroke="#e3e3e3" stroke-width="1.5"/><line x1="462.2" y1="0" x2="462.2" y2="407" stroke="#e3e3e3" stroke-width="1.5"/><line x1="535.0" y1="0" x2="535.0" y2="407" stroke="#e3e3e3" stroke-width="1.5"/><line x1="0" y1="389.5" x2="561" y2="389.5" stroke="#e3e3e3" stroke-width="1.5"/><line x1="0" y1="350.0" x2="561" y2="350.0" stroke="#e3e3e3" stroke-width="1.5"/><line x1="0" y1="310.5" x2="561" y2="310.5" stroke="#e3e3e3" stroke-width="1.5"/><line x1="0" y1="271.0" x2="561" y2="271.0" stroke="#e3e3e3" stroke-width="1.5"/><line x1="0" y1="231.5" x2="561" y2="231.5" stroke="#e3e3e3" stroke-width="1.5"/><line x1="0" y1="192.0" x2="561" y2="192.0" stroke="#e3e3e3" stroke-width="1.5"/><line x1="0" y1="152.5" x2="561" y2="152.5" stroke="#e3e3e3" stroke-width="1.5"/><line x1="0" y1="113.0" x2="561" y2="113.0" stroke="#e3e3e3" stroke-width="1.5"/><line x1="0" y1="73.5" x2="561" y2="73.5" stroke="#e3e3e3" stroke-width="1.5"/><line x1="0" y1="34.0" x2="561" y2="34.0" stroke="#e3e3e3" stroke-width="1.5"/><line x1="0" y1="0" x2="0" y2="407" stroke="#d0d0d0" stroke-width="2"/><line x1="0" y1="407" x2="561" y2="407" stroke="#d0d0d0" stroke-width="2"/></svg>
<div class="t" style="left:2935px;top:1894.1px;width:400px;text-align:center;font-size:21.8px;color:#606060;transform:rotate(-90deg);transform-origin:50% 50%;z-index:5">FID</div>
<svg class="a" style="left:3170px;top:1690px;z-index:2;overflow:visible" width="570" height="420" viewBox="0 0 570 420"><polyline points="29.0,27.2 65.4,256.3 101.9,250.4 174.7,250.4 247.6,236.5 393.3,228.7 539.0,185.2" fill="none" stroke="#3bbce8" stroke-width="3"/><circle cx="29.0" cy="27.2" r="10" fill="#3bbce8"/><circle cx="65.4" cy="256.3" r="10" fill="#3bbce8"/><circle cx="101.9" cy="250.4" r="10" fill="#3bbce8"/><circle cx="174.7" cy="250.4" r="10" fill="#3bbce8"/><circle cx="247.6" cy="236.5" r="10" fill="#3bbce8"/><circle cx="393.3" cy="228.7" r="10" fill="#3bbce8"/><circle cx="539.0" cy="185.2" r="10" fill="#3bbce8"/><polyline points="29.0,232.6 65.4,323.5 101.9,323.5 174.7,325.4 247.6,305.7 393.3,301.7 539.0,278.0" fill="none" stroke="#f0c030" stroke-width="3"/><rect x="21.0" y="224.6" width="16" height="16" fill="#f0c030"/><rect x="57.4" y="315.5" width="16" height="16" fill="#f0c030"/><rect x="93.9" y="315.5" width="16" height="16" fill="#f0c030"/><rect x="166.7" y="317.4" width="16" height="16" fill="#f0c030"/><rect x="239.6" y="297.7" width="16" height="16" fill="#f0c030"/><rect x="385.3" y="293.7" width="16" height="16" fill="#f0c030"/><rect x="531.0" y="270.0" width="16" height="16" fill="#f0c030"/><polyline points="29.0,232.6 65.4,321.5 101.9,321.5 174.7,315.5 247.6,303.7 393.3,291.8 539.0,276.0" fill="none" stroke="#7030a0" stroke-width="3"/><polyline points="29.0,232.6 65.4,321.5 101.9,321.5 174.7,321.5 247.6,303.7 393.3,299.8 539.0,276.0" fill="none" stroke="#e04838" stroke-width="3"/><polygon points="19.0,232.6 36.0,223.6 36.0,241.6" fill="#e04838"/><polygon points="55.4,321.5 72.4,312.5 72.4,330.5" fill="#e04838"/><polygon points="91.9,321.5 108.9,312.5 108.9,330.5" fill="#e04838"/><polygon points="164.7,321.5 181.7,312.5 181.7,330.5" fill="#e04838"/><polygon points="237.6,303.7 254.6,294.7 254.6,312.7" fill="#e04838"/><polygon points="383.3,299.8 400.3,290.8 400.3,308.8" fill="#e04838"/><polygon points="529.0,276.0 546.0,267.0 546.0,285.0" fill="#e04838"/><polyline points="29.0,193.1 65.4,398.5 101.9,398.5 174.7,394.6 247.6,380.7 393.3,382.7 539.0,355.0" fill="none" stroke="#2a9a40" stroke-width="3"/><polyline points="29.0,193.1 65.4,398.5 101.9,399.3 174.7,394.6 247.6,380.7 393.3,374.8 539.0,355.0" fill="none" stroke="#f0b010" stroke-width="3"/><polygon points="29.0,181.1 41.0,193.1 29.0,205.1 17.0,193.1" fill="#f0b010"/><polygon points="65.4,386.5 77.4,398.5 65.4,410.5 53.4,398.5" fill="#f0b010"/><polygon points="101.9,387.3 113.9,399.3 101.9,411.3 89.9,399.3" fill="#f0b010"/><polygon points="174.7,382.6 186.7,394.6 174.7,406.6 162.7,394.6" fill="#f0b010"/><polygon points="247.6,368.7 259.6,380.7 247.6,392.7 235.6,380.7" fill="#f0b010"/><polygon points="393.3,362.8 405.3,374.8 393.3,386.8 381.3,374.8" fill="#f0b010"/><polygon points="539.0,343.0 551.0,355.0 539.0,367.0 527.0,355.0" fill="#f0b010"/></svg>
<div class="a" style="left:3215px;top:1683px;width:7px;height:424px;z-index:5;background:#4472c4;"></div>
<svg class="a" style="left:3390px;top:1700px;z-index:3;overflow:visible" width="350" height="140" viewBox="0 0 350 140"><line x1="10" y1="34" x2="34" y2="34" stroke="#3bbce8" stroke-width="2"/><circle cx="21" cy="34" r="6" fill="#3bbce8"/><line x1="10" y1="52" x2="34" y2="52" stroke="#e8a0e8" stroke-width="2"/><circle cx="21" cy="52" r="6" fill="#e8a0e8"/><line x1="10" y1="71" x2="34" y2="71" stroke="#48c8c0" stroke-width="2"/><circle cx="21" cy="71" r="6" fill="#48c8c0"/><line x1="10" y1="90" x2="34" y2="90" stroke="#f0d848" stroke-width="2"/><circle cx="21" cy="90" r="6" fill="#f0d848"/><line x1="10" y1="109" x2="34" y2="109" stroke="#7030a0" stroke-width="2"/><circle cx="21" cy="109" r="6" fill="#7030a0"/><line x1="184" y1="34" x2="208" y2="34" stroke="#7030a0" stroke-width="2"/><circle cx="195" cy="34" r="5" fill="#7030a0"/><line x1="184" y1="52" x2="208" y2="52" stroke="#5a8ae0" stroke-width="2"/><circle cx="195" cy="52" r="5" fill="#5a8ae0"/><line x1="184" y1="71" x2="208" y2="71" stroke="#2a9a40" stroke-width="2"/><circle cx="195" cy="71" r="5" fill="#2a9a40"/><line x1="184" y1="90" x2="208" y2="90" stroke="#f0b010" stroke-width="2"/><circle cx="195" cy="90" r="5" fill="#f0b010"/><line x1="184" y1="109" x2="208" y2="109" stroke="#e04838" stroke-width="2"/><circle cx="195" cy="109" r="5" fill="#e04838"/></svg>
<div class="a" style="left:3394px;top:1701px;width:339px;height:131px;z-index:4;border:8px solid #4472c4;border-radius:28px;"></div>
<svg class="a" style="left:3799px;top:1717px;z-index:1;overflow:visible" width="500" height="370" viewBox="0 0 500 370"><line x1="22.0" y1="0" x2="22.0" y2="370" stroke="#e3e3e3" stroke-width="1.5"/><line x1="86.9" y1="0" x2="86.9" y2="370" stroke="#e3e3e3" stroke-width="1.5"/><line x1="151.8" y1="0" x2="151.8" y2="370" stroke="#e3e3e3" stroke-width="1.5"/><line x1="216.7" y1="0" x2="216.7" y2="370" stroke="#e3e3e3" stroke-width="1.5"/><line x1="281.6" y1="0" x2="281.6" y2="370" stroke="#e3e3e3" stroke-width="1.5"/><line x1="346.5" y1="0" x2="346.5" y2="370" stroke="#e3e3e3" stroke-width="1.5"/><line x1="411.4" y1="0" x2="411.4" y2="370" stroke="#e3e3e3" stroke-width="1.5"/><line x1="476.3" y1="0" x2="476.3" y2="370" stroke="#e3e3e3" stroke-width="1.5"/><line x1="0" y1="42.0" x2="500" y2="42.0" stroke="#e3e3e3" stroke-width="1.5"/><line x1="0" y1="109.0" x2="500" y2="109.0" stroke="#e3e3e3" stroke-width="1.5"/><line x1="0" y1="176.0" x2="500" y2="176.0" stroke="#e3e3e3" stroke-width="1.5"/><line x1="0" y1="243.0" x2="500" y2="243.0" stroke="#e3e3e3" stroke-width="1.5"/><line x1="0" y1="310.0" x2="500" y2="310.0" stroke="#e3e3e3" stroke-width="1.5"/><line x1="0" y1="0" x2="0" y2="370" stroke="#d0d0d0" stroke-width="2"/><line x1="0" y1="370" x2="500" y2="370" stroke="#d0d0d0" stroke-width="2"/></svg>
<div class="t" style="left:3550px;top:1894.8px;width:400px;text-align:center;font-size:20.3px;color:#606060;transform:rotate(-90deg);transform-origin:50% 50%;z-index:5">MSE</div>
<svg class="a" style="left:3790px;top:1700px;z-index:2;overflow:visible" width="520" height="400" viewBox="0 0 520 400"><polyline points="31.0,35.0 63.4,74.0 95.9,94.0 160.8,296.0 225.7,355.0 355.5,368.0 485.3,370.0" fill="none" stroke="#3bbce8" stroke-width="3"/><circle cx="31.0" cy="35.0" r="9" fill="#3bbce8"/><circle cx="63.4" cy="74.0" r="9" fill="#3bbce8"/><circle cx="95.9" cy="94.0" r="9" fill="#3bbce8"/><circle cx="160.8" cy="296.0" r="9" fill="#3bbce8"/><circle cx="225.7" cy="355.0" r="9" fill="#3bbce8"/><circle cx="355.5" cy="368.0" r="9" fill="#3bbce8"/><circle cx="485.3" cy="370.0" r="9" fill="#3bbce8"/><polyline points="31.0,34.0 63.4,80.0 95.9,101.0 160.8,272.0 225.7,285.0 355.5,290.0 485.3,295.0" fill="none" stroke="#f0b010" stroke-width="3"/><polygon points="31.0,23.0 42.0,34.0 31.0,45.0 20.0,34.0" fill="#f0b010"/><polygon points="63.4,69.0 74.4,80.0 63.4,91.0 52.4,80.0" fill="#f0b010"/><polygon points="95.9,90.0 106.9,101.0 95.9,112.0 84.9,101.0" fill="#f0b010"/><polygon points="160.8,261.0 171.8,272.0 160.8,283.0 149.8,272.0" fill="#f0b010"/><polygon points="225.7,274.0 236.7,285.0 225.7,296.0 214.7,285.0" fill="#f0b010"/><polygon points="355.5,279.0 366.5,290.0 355.5,301.0 344.5,290.0" fill="#f0b010"/><polygon points="485.3,284.0 496.3,295.0 485.3,306.0 474.3,295.0" fill="#f0b010"/><polyline points="31.0,34.0 63.4,80.0 95.9,101.0 160.8,272.0 225.7,285.0 355.5,292.0 485.3,295.0" fill="none" stroke="#2a9a40" stroke-width="3"/><polyline points="31.0,34.0 63.4,100.0 95.9,120.0 160.8,252.0 225.7,259.0 355.5,269.0 485.3,229.0" fill="none" stroke="#e04838" stroke-width="3"/><polygon points="22.0,34.0 38.0,26.0 38.0,42.0" fill="#e04838"/><polygon points="54.4,100.0 70.4,92.0 70.4,108.0" fill="#e04838"/><polygon points="86.9,120.0 102.9,112.0 102.9,128.0" fill="#e04838"/><polygon points="151.8,252.0 167.8,244.0 167.8,260.0" fill="#e04838"/><polygon points="216.7,259.0 232.7,251.0 232.7,267.0" fill="#e04838"/><polygon points="346.5,269.0 362.5,261.0 362.5,277.0" fill="#e04838"/><polygon points="476.3,229.0 492.3,221.0 492.3,237.0" fill="#e04838"/><polyline points="31.0,34.0 63.4,100.0 95.9,120.0 160.8,246.0 225.7,258.0 355.5,249.0 485.3,229.0" fill="none" stroke="#7030a0" stroke-width="3"/></svg>
<div class="a" style="left:3989px;top:1724px;width:304px;height:104px;z-index:3;background:rgba(255,255,255,0.85);border:2px solid #dddddd;border-radius:3px;"></div>
<svg class="a" style="left:3985px;top:1720px;z-index:4;overflow:visible" width="320" height="110" viewBox="0 0 320 110"><line x1="7" y1="29" x2="31" y2="29" stroke="#3bbce8" stroke-width="2"/><circle cx="19" cy="29" r="5" fill="#3bbce8"/><line x1="7" y1="46" x2="31" y2="46" stroke="#e8a0e8" stroke-width="2"/><circle cx="19" cy="46" r="5" fill="#e8a0e8"/><line x1="7" y1="63" x2="31" y2="63" stroke="#48c8c0" stroke-width="2"/><circle cx="19" cy="63" r="5" fill="#48c8c0"/><line x1="7" y1="80" x2="31" y2="80" stroke="#f0d848" stroke-width="2"/><circle cx="19" cy="80" r="5" fill="#f0d848"/><line x1="7" y1="97" x2="31" y2="97" stroke="#7030a0" stroke-width="2"/><circle cx="19" cy="97" r="5" fill="#7030a0"/><line x1="165" y1="29" x2="189" y2="29" stroke="#7030a0" stroke-width="2"/><circle cx="177" cy="29" r="4" fill="#7030a0"/><line x1="165" y1="46" x2="189" y2="46" stroke="#5a8ae0" stroke-width="2"/><circle cx="177" cy="46" r="4" fill="#5a8ae0"/><line x1="165" y1="63" x2="189" y2="63" stroke="#2a9a40" stroke-width="2"/><circle cx="177" cy="63" r="4" fill="#2a9a40"/><line x1="165" y1="80" x2="189" y2="80" stroke="#f0b010" stroke-width="2"/><circle cx="177" cy="80" r="4" fill="#f0b010"/><line x1="165" y1="97" x2="189" y2="97" stroke="#e04838" stroke-width="2"/><circle cx="177" cy="97" r="4" fill="#e04838"/></svg>
<div class="a" style="left:3769px;top:1789px;width:233px;height:8px;z-index:5;background:#4472c4;"></div>
<div class="a" style="left:2386px;top:2377px;width:109px;height:109px;z-index:2;border:3px solid #1e7b1e;"></div>
<div class="a" style="left:2513px;top:2513px;width:-18px;height:108px;z-index:0;"></div>
<svg class="a" style="left:2380px;top:2370px;z-index:2;overflow:visible" width="130" height="260" viewBox="0 0 130 260"><line x1="58" y1="8" x2="58" y2="115" stroke="#ddd" stroke-width="1.5"/><line x1="8" y1="61" x2="114" y2="61" stroke="#ddd" stroke-width="1.5"/>
<rect x="7.5" y="144.5" width="107" height="107" fill="none" stroke="#b22222" stroke-width="3" stroke-dasharray="7 5"/>
<line x1="58" y1="145" x2="58" y2="250" stroke="#ddd" stroke-width="1.5"/><line x1="8" y1="198" x2="114" y2="198" stroke="#ddd" stroke-width="1.5"/></svg>
<svg class="a" style="left:2495px;top:2398px;z-index:2;overflow:visible" width="324" height="180" viewBox="0 0 324 180"><line x1="10" y1="160" x2="304" y2="160" stroke="#666" stroke-width="2"/><polygon points="304,160 294,155 294,165" fill="#666"/><line x1="119" y1="160" x2="119" y2="30" stroke="#666" stroke-width="2"/><polygon points="119,24 114,36 124,36" fill="#666"/><line x1="184" y1="160" x2="184" y2="30" stroke="#999" stroke-width="1.2" stroke-dasharray="2 2"/><polyline points="14.9,158.7 17.3,158.4 19.8,158.1 22.2,157.6 24.7,157.1 27.2,156.5 29.6,155.9 32.1,155.1 34.5,154.1 36.9,153.1 39.4,151.9 41.8,150.5 44.3,148.9 46.8,147.2 49.2,145.2 51.7,143.0 54.1,140.6 56.6,138.0 59.0,135.2 61.4,132.1 63.9,128.7 66.3,125.2 68.8,121.4 71.2,117.4 73.7,113.3 76.2,109.0 78.6,104.5 81.1,100.0 83.5,95.4 85.9,90.8 88.4,86.3 90.8,81.8 93.3,77.5 95.8,73.4 98.2,69.5 100.7,65.9 103.1,62.6 105.6,59.7 108.0,57.2 110.4,55.2 112.9,53.6 115.3,52.6 117.8,52.1 120.2,52.1 122.7,52.6 125.2,53.7 127.6,55.2 130.1,57.3 132.5,59.7 134.9,62.7 137.4,65.9 139.8,69.6 142.3,73.5 144.8,77.6 147.2,81.9 149.7,86.4 152.1,90.9 154.6,95.5 157.0,100.1 159.4,104.6 161.9,109.0 164.3,113.3 166.8,117.5 169.2,121.5 171.7,125.2 174.2,128.8 176.6,132.1 179.1,135.2 181.5,138.1 183.9,140.7 186.4,143.1 188.8,145.3 191.3,147.2 193.8,149.0 196.2,150.5 198.7,151.9 201.1,153.1 203.6,154.2 206.0,155.1 208.4,155.9 210.9,156.6 213.3,157.1 215.8,157.6 218.2,158.1 220.7,158.4 223.2,158.7" fill="none" stroke="#1e7b1e" stroke-width="3.5"/><polyline points="81.1,158.6 83.5,158.3 85.9,157.9 88.4,157.4 90.8,156.9 93.3,156.2 95.8,155.5 98.2,154.6 100.7,153.7 103.1,152.5 105.6,151.2 108.0,149.8 110.4,148.1 112.9,146.3 115.3,144.2 117.8,141.9 120.2,139.4 122.7,136.7 125.2,133.7 127.6,130.5 130.1,127.1 132.5,123.4 134.9,119.5 137.4,115.5 139.8,111.3 142.3,106.9 144.8,102.4 147.2,97.9 149.7,93.3 152.1,88.7 154.6,84.2 157.0,79.8 159.4,75.6 161.9,71.5 164.3,67.7 166.8,64.3 169.2,61.2 171.7,58.5 174.2,56.2 176.6,54.4 179.1,53.1 181.5,52.3 183.9,52.0 186.4,52.3 188.8,53.0 191.3,54.3 193.8,56.1 196.2,58.4 198.7,61.1 201.1,64.2 203.6,67.6 206.0,71.4 208.4,75.4 210.9,79.6 213.3,84.0 215.8,88.5 218.2,93.1 220.7,97.7 223.2,102.2 225.6,106.7 228.1,111.1 230.5,115.3 232.9,119.4 235.4,123.3 237.8,126.9 240.3,130.4 242.8,133.6 245.2,136.6 247.7,139.3 250.1,141.8 252.6,144.1 255.0,146.2 257.4,148.1 259.9,149.7 262.3,151.2 264.8,152.5 267.2,153.6 269.7,154.6 272.2,155.5 274.6,156.2 277.1,156.8 279.5,157.4 281.9,157.8 284.4,158.2 286.8,158.6" fill="none" stroke="#b22222" stroke-width="3.5" stroke-dasharray="9 7"/></svg>
<div class="a" style="left:2509px;top:2604px;width:255px;height:84px;z-index:2;background:#fff;border:2px solid #d8d8d8;"></div>
<svg class="a" style="left:2515px;top:2610px;z-index:3;overflow:visible" width="100" height="80" viewBox="0 0 100 80"><line x1="5" y1="17" x2="70" y2="17" stroke="#1e7b1e" stroke-width="3.5"/><line x1="5" y1="55" x2="70" y2="55" stroke="#b22222" stroke-width="3.5" stroke-dasharray="9 6"/></svg>
<svg class="a" style="left:2808px;top:2377px;z-index:2" width="111" height="110"><rect width="111" height="110" filter="url(#nzM)"/></svg>
<div class="a" style="left:2806px;top:2375px;width:115px;height:114px;z-index:3;border:3px solid #1e7b1e;"></div>
<svg class="a" style="left:2808px;top:2513px;z-index:2" width="111" height="108"><rect width="111" height="108" filter="url(#nzM)"/></svg>
<div class="a" style="left:2863px;top:2565px;width:49px;height:51px;z-index:3;background:#d8d8d8;"></div>
<svg class="a" style="left:2805px;top:2510px;z-index:4;overflow:visible" width="118" height="115" viewBox="0 0 118 115"><rect x="1.5" y="1.5" width="113" height="110" fill="none" stroke="#b22222" stroke-width="3.5" stroke-dasharray="8 5"/></svg>
<svg class="a" style="left:2925px;top:2398px;z-index:2;overflow:visible" width="315" height="180" viewBox="0 0 315 180"><line x1="10" y1="160" x2="295" y2="160" stroke="#666" stroke-width="2"/><polygon points="295,160 285,155 285,165" fill="#666"/><line x1="118" y1="160" x2="118" y2="30" stroke="#999" stroke-width="1.2" stroke-dasharray="2 2"/><line x1="167" y1="160" x2="167" y2="30" stroke="#999" stroke-width="1.2" stroke-dasharray="2 2"/><polyline points="14.8,158.6 17.1,158.3 19.5,157.9 21.9,157.5 24.2,157.0 26.6,156.4 29.0,155.7 31.4,155.0 33.8,154.0 36.1,153.0 38.5,151.8 40.9,150.5 43.2,149.0 45.6,147.3 48.0,145.4 50.4,143.3 52.8,141.0 55.1,138.5 57.5,135.8 59.9,132.8 62.2,129.6 64.6,126.2 67.0,122.6 69.4,118.9 71.8,114.9 74.1,110.8 76.5,106.5 78.9,102.2 81.2,97.8 83.6,93.3 86.0,88.9 88.4,84.5 90.8,80.2 93.1,76.1 95.5,72.2 97.9,68.5 100.2,65.0 102.6,61.9 105.0,59.2 107.4,56.9 109.8,55.0 112.1,53.5 114.5,52.5 116.9,52.1 119.2,52.1 121.6,52.6 124.0,53.6 126.4,55.0 128.8,57.0 131.1,59.3 133.5,62.1 135.9,65.2 138.2,68.6 140.6,72.4 143.0,76.3 145.4,80.5 147.8,84.7 150.1,89.1 152.5,93.6 154.9,98.0 157.2,102.4 159.6,106.8 162.0,111.0 164.4,115.1 166.8,119.1 169.1,122.8 171.5,126.4 173.9,129.8 176.2,133.0 178.6,135.9 181.0,138.6 183.4,141.1 185.8,143.4 188.1,145.5 190.5,147.4 192.9,149.0 195.2,150.5 197.6,151.9 200.0,153.1 202.4,154.1 204.8,155.0 207.1,155.8 209.5,156.5 211.9,157.0 214.2,157.5 216.6,158.0 219.0,158.3 221.4,158.6" fill="none" stroke="#1e7b1e" stroke-width="3.5"/><polyline points="62.2,158.8 64.6,158.5 67.0,158.2 69.4,157.8 71.8,157.3 74.1,156.8 76.5,156.2 78.9,155.5 81.2,154.6 83.6,153.7 86.0,152.6 88.4,151.3 90.8,149.9 93.1,148.4 95.5,146.6 97.9,144.6 100.2,142.5 102.6,140.1 105.0,137.5 107.4,134.7 109.8,131.7 112.1,128.4 114.5,124.9 116.9,121.3 119.2,117.4 121.6,113.4 124.0,109.2 126.4,104.9 128.8,100.6 131.1,96.1 133.5,91.7 135.9,87.3 138.2,82.9 140.6,78.7 143.0,74.6 145.4,70.8 147.8,67.2 150.1,63.9 152.5,60.9 154.9,58.3 157.2,56.1 159.6,54.4 162.0,53.1 164.4,52.3 166.8,52.0 169.1,52.2 171.5,52.9 173.9,54.1 176.2,55.7 178.6,57.8 181.0,60.3 183.4,63.2 185.8,66.4 188.1,70.0 190.5,73.8 192.9,77.8 195.2,82.0 197.6,86.4 200.0,90.8 202.4,95.2 204.8,99.6 207.1,104.0 209.5,108.3 211.9,112.5 214.2,116.6 216.6,120.5 219.0,124.2 221.4,127.7 223.8,131.0 226.1,134.1 228.5,136.9 230.9,139.6 233.2,142.0 235.6,144.2 238.0,146.2 240.4,148.0 242.8,149.6 245.1,151.1 247.5,152.3 249.9,153.5 252.2,154.4 254.6,155.3 257.0,156.0 259.4,156.7 261.8,157.2 264.1,157.7 266.5,158.1 268.9,158.4 271.2,158.7" fill="none" stroke="#b22222" stroke-width="3.5" stroke-dasharray="9 7"/></svg>
<svg class="a" style="left:3228px;top:2377px;z-index:2" width="111" height="109"><rect width="111" height="109" fill="#bfa888"/><path d="M0 109 C0 38.15 16.65 0 55.5 0 C94.35 0 111 38.15 111 109Z" fill="#d6b66e"/><rect x="97.68" y="0" width="13.32" height="109" fill="#c8c0c8"/><ellipse cx="53.28" cy="61.040000000000006" rx="28.86" ry="39.24" fill="#e8c4a6"/><path d="M22.200000000000003 43.6 C33.3 13.08 77.69999999999999 13.08 86.58 43.6 C72.15 27.25 38.849999999999994 27.25 22.200000000000003 43.6Z" fill="#dcbc78"/><ellipse cx="42.18" cy="52.32" rx="5.550000000000001" ry="2.18" fill="#605050"/><ellipse cx="66.6" cy="52.32" rx="5.550000000000001" ry="2.18" fill="#605050"/><path d="M39.96 76.3 Q53.28 87.2 66.6 76.3 Q53.28 80.66 39.96 76.3Z" fill="#f4f0f0" stroke="#c06060" stroke-width="2"/><rect width="111" height="109" fill="#a89890" opacity="0.35"/><rect width="111" height="109" filter="url(#nzM)" opacity="0.3"/></svg>
<div class="a" style="left:3226px;top:2375px;width:115px;height:113px;z-index:3;border:3px solid #1e7b1e;"></div>
<svg class="a" style="left:3228px;top:2512px;z-index:2" width="111" height="109"><rect width="111" height="109" fill="#5a5a5a"/><path d="M22.200000000000003 67.58 C16.65 21.8 49.95 16.349999999999998 55.5 32.699999999999996 C66.6 10.9 99.9 21.8 88.80000000000001 67.58Z" fill="#e0a090"/><path d="M5.550000000000001 78.48 C33.3 98.10000000000001 77.69999999999999 98.10000000000001 105.44999999999999 78.48 L105.44999999999999 65.39999999999999 C77.69999999999999 81.75 33.3 81.75 5.550000000000001 65.39999999999999Z" fill="#e8a898"/><path d="M19.98 61.040000000000006 C44.400000000000006 71.94 66.6 71.94 91.02 61.040000000000006 L91.02 71.94 C66.6 82.84 44.400000000000006 82.84 19.98 71.94Z" fill="#5060b0"/><path d="M72.15 32.699999999999996 C88.80000000000001 21.8 97.68 27.25 91.02 49.050000000000004 L73.26 49.050000000000004Z" fill="#d8d8f8"/><rect width="111" height="109" filter="url(#nzf)" opacity="0.3"/><rect x="1.5" y="1.5" width="108" height="106" fill="none" stroke="#b22222" stroke-width="3.5" stroke-dasharray="8 5"/></svg>
<svg class="a" style="left:3359px;top:2399px;z-index:2;overflow:visible" width="306" height="180" viewBox="0 0 306 180"><line x1="10" y1="160" x2="286" y2="160" stroke="#666" stroke-width="2"/><polygon points="286,160 276,155 276,165" fill="#666"/><line x1="120" y1="160" x2="120" y2="30" stroke="#999" stroke-width="1.2" stroke-dasharray="2 2"/><line x1="161" y1="160" x2="161" y2="30" stroke="#999" stroke-width="1.2" stroke-dasharray="2 2"/><polyline points="16.9,158.6 19.2,158.3 21.5,157.9 23.8,157.5 26.1,157.0 28.4,156.5 30.7,155.8 33.0,155.1 35.3,154.2 37.6,153.2 39.9,152.1 42.2,150.9 44.5,149.5 46.8,147.9 49.1,146.1 51.4,144.2 53.7,142.0 56.0,139.7 58.3,137.2 60.6,134.4 62.9,131.5 65.2,128.3 67.5,124.9 69.8,121.4 72.1,117.7 74.4,113.8 76.7,109.8 79.0,105.6 81.3,101.4 83.6,97.1 85.9,92.8 88.2,88.5 90.5,84.3 92.8,80.1 95.1,76.1 97.4,72.3 99.7,68.7 102.0,65.4 104.3,62.3 106.6,59.6 108.9,57.3 111.2,55.4 113.5,53.8 115.8,52.8 118.1,52.2 120.4,52.0 122.7,52.3 125.0,53.1 127.3,54.3 129.6,56.0 131.9,58.1 134.2,60.5 136.5,63.4 138.8,66.5 141.1,69.9 143.4,73.6 145.7,77.5 148.0,81.6 150.3,85.8 152.6,90.0 154.9,94.3 157.2,98.6 159.5,102.9 161.8,107.1 164.1,111.2 166.4,115.1 168.7,119.0 171.0,122.6 173.3,126.1 175.6,129.4 177.9,132.5 180.2,135.4 182.5,138.1 184.8,140.5 187.1,142.8 189.4,144.9 191.7,146.8 194.0,148.4 196.3,150.0 198.6,151.3 200.9,152.5 203.2,153.6 205.5,154.5 207.8,155.4 210.1,156.1 212.4,156.7 214.7,157.2 217.0,157.7 219.3,158.1 221.6,158.4 223.9,158.7" fill="none" stroke="#1e7b1e" stroke-width="3.5"/><polyline points="58.3,158.5 60.6,158.2 62.9,157.9 65.2,157.4 67.5,157.0 69.8,156.4 72.1,155.7 74.4,154.9 76.7,154.1 79.0,153.1 81.3,151.9 83.6,150.6 85.9,149.2 88.2,147.6 90.5,145.8 92.8,143.8 95.1,141.7 97.4,139.3 99.7,136.7 102.0,133.9 104.3,130.9 106.6,127.7 108.9,124.3 111.2,120.8 113.5,117.0 115.8,113.1 118.1,109.0 120.4,104.9 122.7,100.7 125.0,96.4 127.3,92.1 129.6,87.8 131.9,83.6 134.2,79.4 136.5,75.5 138.8,71.7 141.1,68.1 143.4,64.8 145.7,61.8 148.0,59.2 150.3,56.9 152.6,55.1 154.9,53.6 157.2,52.6 159.5,52.1 161.8,52.0 164.1,52.4 166.4,53.3 168.7,54.6 171.0,56.3 173.3,58.5 175.6,61.0 177.9,63.9 180.2,67.1 182.5,70.6 184.8,74.3 187.1,78.2 189.4,82.3 191.7,86.5 194.0,90.8 196.3,95.1 198.6,99.4 200.9,103.6 203.2,107.8 205.5,111.9 207.8,115.8 210.1,119.6 212.4,123.3 214.7,126.7 217.0,130.0 219.3,133.0 221.6,135.9 223.9,138.5 226.2,141.0 228.5,143.2 230.8,145.2 233.1,147.1 235.4,148.7 237.7,150.2 240.0,151.5 242.3,152.7 244.6,153.8 246.9,154.7 249.2,155.5 251.5,156.2 253.8,156.8 256.1,157.3 258.4,157.8 260.7,158.1 263.0,158.5 265.3,158.7" fill="none" stroke="#b22222" stroke-width="3.5" stroke-dasharray="9 7"/></svg>
<svg class="a" style="left:3657px;top:2377px;z-index:2" width="111" height="109"><rect width="111" height="109" fill="#bfa888"/><path d="M0 109 C0 38.15 16.65 0 55.5 0 C94.35 0 111 38.15 111 109Z" fill="#d6b66e"/><rect x="97.68" y="0" width="13.32" height="109" fill="#c8c0c8"/><ellipse cx="53.28" cy="61.040000000000006" rx="28.86" ry="39.24" fill="#e8c4a6"/><path d="M22.200000000000003 43.6 C33.3 13.08 77.69999999999999 13.08 86.58 43.6 C72.15 27.25 38.849999999999994 27.25 22.200000000000003 43.6Z" fill="#dcbc78"/><ellipse cx="42.18" cy="52.32" rx="5.550000000000001" ry="2.18" fill="#605050"/><ellipse cx="66.6" cy="52.32" rx="5.550000000000001" ry="2.18" fill="#605050"/><path d="M39.96 76.3 Q53.28 87.2 66.6 76.3 Q53.28 80.66 39.96 76.3Z" fill="#f4f0f0" stroke="#c06060" stroke-width="2"/><rect width="111" height="109" fill="#a89890" opacity="0.35"/><rect width="111" height="109" filter="url(#nzM)" opacity="0.3"/></svg>
<div class="a" style="left:3655px;top:2375px;width:115px;height:113px;z-index:3;border:3px solid #1e7b1e;"></div>
<svg class="a" style="left:3657px;top:2512px;z-index:2" width="111" height="109"><rect width="111" height="109" fill="#5a5a5a"/><path d="M22.200000000000003 67.58 C16.65 21.8 49.95 16.349999999999998 55.5 32.699999999999996 C66.6 10.9 99.9 21.8 88.80000000000001 67.58Z" fill="#e0a090"/><path d="M5.550000000000001 78.48 C33.3 98.10000000000001 77.69999999999999 98.10000000000001 105.44999999999999 78.48 L105.44999999999999 65.39999999999999 C77.69999999999999 81.75 33.3 81.75 5.550000000000001 65.39999999999999Z" fill="#e8a898"/><path d="M19.98 61.040000000000006 C44.400000000000006 71.94 66.6 71.94 91.02 61.040000000000006 L91.02 71.94 C66.6 82.84 44.400000000000006 82.84 19.98 71.94Z" fill="#5060b0"/><path d="M72.15 32.699999999999996 C88.80000000000001 21.8 97.68 27.25 91.02 49.050000000000004 L73.26 49.050000000000004Z" fill="#d8d8f8"/><rect width="111" height="109" filter="url(#nzf)" opacity="0.3"/><rect x="1.5" y="1.5" width="108" height="106" fill="none" stroke="#b22222" stroke-width="3.5" stroke-dasharray="8 5"/></svg>
<svg class="a" style="left:3832px;top:2377px;z-index:2" width="112" height="109"><rect width="112" height="109" fill="#bfa888"/><path d="M0 109 C0 38.15 16.8 0 56.0 0 C95.2 0 112 38.15 112 109Z" fill="#d6b66e"/><rect x="98.56" y="0" width="13.44" height="109" fill="#c8c0c8"/><ellipse cx="53.76" cy="61.040000000000006" rx="29.12" ry="39.24" fill="#e8c4a6"/><path d="M22.400000000000002 43.6 C33.6 13.08 78.39999999999999 13.08 87.36 43.6 C72.8 27.25 39.199999999999996 27.25 22.400000000000002 43.6Z" fill="#dcbc78"/><ellipse cx="42.56" cy="52.32" rx="5.6000000000000005" ry="2.18" fill="#605050"/><ellipse cx="67.2" cy="52.32" rx="5.6000000000000005" ry="2.18" fill="#605050"/><path d="M40.32 76.3 Q53.76 87.2 67.2 76.3 Q53.76 80.66 40.32 76.3Z" fill="#f4f0f0" stroke="#c06060" stroke-width="2"/></svg>
<div class="a" style="left:3830px;top:2375px;width:116px;height:113px;z-index:3;border:3px solid #1e7b1e;"></div>
<svg class="a" style="left:3832px;top:2512px;z-index:2" width="112" height="109"><rect width="112" height="109" fill="#5a5a5a"/><path d="M22.400000000000002 67.58 C16.8 21.8 50.4 16.349999999999998 56.0 32.699999999999996 C67.2 10.9 100.8 21.8 89.60000000000001 67.58Z" fill="#e0a090"/><path d="M5.6000000000000005 78.48 C33.6 98.10000000000001 78.39999999999999 98.10000000000001 106.39999999999999 78.48 L106.39999999999999 65.39999999999999 C78.39999999999999 81.75 33.6 81.75 5.6000000000000005 65.39999999999999Z" fill="#e8a898"/><path d="M20.16 61.040000000000006 C44.800000000000004 71.94 67.2 71.94 91.83999999999999 61.040000000000006 L91.83999999999999 71.94 C67.2 82.84 44.800000000000004 82.84 20.16 71.94Z" fill="#5060b0"/><path d="M72.8 32.699999999999996 C89.60000000000001 21.8 98.56 27.25 91.83999999999999 49.050000000000004 L73.92 49.050000000000004Z" fill="#d8d8f8"/><rect x="1.5" y="1.5" width="109" height="106" fill="none" stroke="#b22222" stroke-width="3.5" stroke-dasharray="8 5"/></svg>
<svg class="a" style="left:2843px;top:2650px;z-index:2;overflow:visible" width="1070" height="40" viewBox="0 0 1070 40"><line x1="36" y1="16" x2="120" y2="16" stroke="#666" stroke-width="4"/><line x1="120" y1="16" x2="290" y2="16" stroke="#666" stroke-width="4" stroke-dasharray="12 9"/><line x1="290" y1="16" x2="390" y2="16" stroke="#666" stroke-width="4"/><polygon points="400,16 386,9 386,23" fill="#666"/><line x1="443" y1="16" x2="820" y2="16" stroke="#666" stroke-width="4"/><polygon points="830,16 816,9 816,23" fill="#666"/><line x1="872" y1="16" x2="990" y2="16" stroke="#666" stroke-width="4" stroke-dasharray="12 9"/><polygon points="1002,16 988,9 988,23" fill="#666"/><circle cx="20" cy="16" r="21" fill="#000"/><circle cx="442" cy="16" r="21" fill="#000"/><circle cx="871" cy="16" r="21" fill="#000"/><circle cx="1045" cy="16" r="21" fill="#000"/></svg>
<svg class="a" style="left:2990px;top:2470px;z-index:6;overflow:visible" width="130" height="290" viewBox="0 0 130 290"><polygon points="57,20 72,8 72,15 100,15 100,8 115,20 100,32 100,25 72,25 72,32" fill="#c00000"/><line x1="82" y1="52" x2="19" y2="252" stroke="#c00000" stroke-width="6"/><polygon points="10,270 8,238 32,246" fill="#c00000"/></svg>
<div class="a" style="left:3231px;top:2756px;width:243px;height:3px;z-index:3;background:#e00000;"></div>
<div class="t" style="left:137.0px;top:117.3px;font-size:106.10px;font-family:'Liberation Sans', sans-serif;font-weight:bold;color:#2c2c2c;z-index:5;transform:scaleX(0.9434);">VillanDiffusion: A Unified Backdoor</div>
<div class="t" style="left:136.0px;top:236.8px;font-size:106.10px;font-family:'Liberation Sans', sans-serif;font-weight:bold;color:#2c2c2c;z-index:5;transform:scaleX(0.9389);">Attack Framework for Diffusion Models!</div>
<div class="t" style="left:380.0px;top:368.6px;font-size:58.14px;font-family:'Liberation Sans', sans-serif;font-weight:bold;color:#000;z-index:5;transform:scaleX(0.9236);">Sheng-Yen Chou, Pin-Yu Chen, Tsung-Yi Ho</div>
<div class="t" style="left:2320.0px;top:219.3px;font-size:78.49px;font-family:'Liberation Sans', sans-serif;font-weight:bold;color:#1b1f23;z-index:5;transform:scaleX(0.7903);">GitHub</div>
<div class="t" style="left:2899.0px;top:277.5px;font-size:19.85px;font-family:'Liberation Serif', serif;font-weight:normal;color:#111;z-index:5;transform:scaleX(1.0289);letter-spacing:-0.5px">The Chinese University of Hong Kong</div>
<div class="t" style="left:3735.0px;top:173.7px;font-size:45.06px;font-family:'Liberation Sans', sans-serif;font-weight:normal;color:#383b40;z-index:5;transform:scaleX(0.9525);">NEURAL INFORMATION</div>
<div class="t" style="left:3735.0px;top:217.7px;font-size:45.06px;font-family:'Liberation Sans', sans-serif;font-weight:normal;color:#383b40;z-index:5;transform:scaleX(0.9088);">PROCESSING SYSTEMS</div>
<div class="t" style="left:115.0px;top:464.9px;font-size:62.50px;font-family:'Liberation Sans', sans-serif;font-weight:normal;color:#000;z-index:5;transform:scaleX(0.9049);">Existing Security Threats on Diffusion Models:</div>
<div class="t" style="left:531.0px;top:534.1px;font-size:61.05px;font-family:'Liberation Sans', sans-serif;font-weight:normal;color:#000;z-index:5;transform:scaleX(0.9185);">BadDiffusion</div>
<div class="t" style="left:192.0px;top:653.1px;font-size:23.98px;font-family:'Liberation Sans', sans-serif;font-weight:normal;color:#111;z-index:5;transform:scaleX(0.8423);">Target:</div>
<div class="t" style="left:191.0px;top:860.6px;font-size:23.98px;font-family:'Liberation Sans', sans-serif;font-weight:normal;color:#111;z-index:5;transform:scaleX(0.8290);">Trigger:</div>
<div class="t" style="left:161.5px;top:1047.5px;font-size:27.62px;font-family:'Liberation Sans', sans-serif;font-weight:bold;color:#111;z-index:5;transform:scaleX(0.8866);">Backdoor</div>
<div class="t" style="left:134.5px;top:1081.5px;font-size:27.62px;font-family:'Liberation Sans', sans-serif;font-weight:bold;color:#111;z-index:5;transform:scaleX(0.9234);">Configuration</div>
<div class="t" style="left:347.0px;top:682.8px;font-size:26.16px;font-family:'Liberation Sans', sans-serif;font-weight:bold;color:#c00000;z-index:5;transform:scaleX(0.8699);">Attack Goal 2 – Specificity: Output target image when the input contains triggers</div>
<div class="t" style="left:350.0px;top:722.0px;font-size:24.71px;font-family:'Liberation Sans', sans-serif;font-weight:bold;color:#c00000;z-index:5;transform:scaleX(0.7499);">Trigger</div>
<div class="t" style="left:336.5px;top:775.6px;font-size:23.98px;font-family:'Liberation Sans', sans-serif;font-weight:normal;color:#111;z-index:5;transform:scaleX(0.8831);">Inputs w/</div>
<div class="t" style="left:348.0px;top:802.6px;font-size:23.98px;font-family:'Liberation Sans', sans-serif;font-weight:normal;color:#111;z-index:5;transform:scaleX(0.8263);">Trigger</div>
<div class="t" style="left:330.5px;top:891.6px;font-size:23.98px;font-family:'Liberation Sans', sans-serif;font-weight:normal;color:#111;z-index:5;transform:scaleX(0.8905);">Inputs w/o</div>
<div class="t" style="left:348.0px;top:918.6px;font-size:23.98px;font-family:'Liberation Sans', sans-serif;font-weight:normal;color:#111;z-index:5;transform:scaleX(0.8263);">Trigger</div>
<div class="t" style="left:732.5px;top:784.3px;font-size:29.07px;font-family:'Liberation Sans', sans-serif;font-weight:bold;color:#fff;z-index:5;transform:scaleX(0.8478);">Diffusion</div>
<div class="t" style="left:746.0px;top:820.3px;font-size:29.07px;font-family:'Liberation Sans', sans-serif;font-weight:bold;color:#fff;z-index:5;transform:scaleX(0.9536);">Model</div>
<div class="t" style="left:735.0px;top:899.3px;font-size:29.07px;font-family:'Liberation Sans', sans-serif;font-weight:bold;color:#fff;z-index:5;transform:scaleX(0.8914);">Sampler</div>
<div class="t" style="left:1132.0px;top:772.6px;font-size:23.98px;font-family:'Liberation Sans', sans-serif;font-weight:normal;color:#111;z-index:5;transform:scaleX(0.8295);">Backdoor</div>
<div class="t" style="left:1141.0px;top:799.6px;font-size:23.98px;font-family:'Liberation Sans', sans-serif;font-weight:normal;color:#111;z-index:5;transform:scaleX(0.8154);">Sample</div>
<div class="t" style="left:1154.0px;top:880.6px;font-size:23.98px;font-family:'Liberation Sans', sans-serif;font-weight:normal;color:#111;z-index:5;transform:scaleX(0.8026);">Clean</div>
<div class="t" style="left:1146.0px;top:906.6px;font-size:23.98px;font-family:'Liberation Sans', sans-serif;font-weight:normal;color:#111;z-index:5;transform:scaleX(0.8154);">Sample</div>
<div class="t" style="left:723.5px;top:987.5px;font-size:27.62px;font-family:'Liberation Sans', sans-serif;font-weight:bold;color:#111;z-index:5;transform:scaleX(0.9173);">Inference</div>
<div class="t" style="left:342.0px;top:1015.8px;font-size:26.16px;font-family:'Liberation Sans', sans-serif;font-weight:bold;color:#0070c0;z-index:5;transform:scaleX(0.9817);">Attack Goal 1 – Utility: Output clean samples when the input has no triggers</div>
<div class="t" style="left:132.0px;top:1159.1px;font-size:61.05px;font-family:'Liberation Sans', sans-serif;font-weight:normal;color:#000;z-index:5;transform:scaleX(0.9275);">Limitation of BadDiffusion: Limited Attack Scenarios</div>
<div class="t" style="left:267.5px;top:1330.9px;font-size:43.60px;font-family:'Liberation Sans', sans-serif;font-weight:bold;color:#000;z-index:5;transform:scaleX(0.8908);">Backdoor</div>
<div class="t" style="left:227.5px;top:1385.9px;font-size:43.60px;font-family:'Liberation Sans', sans-serif;font-weight:bold;color:#000;z-index:5;transform:scaleX(0.9060);">Configuration</div>
<div class="t" style="left:518.5px;top:1299.6px;font-size:39.24px;font-family:'Liberation Sans', sans-serif;font-weight:bold;color:#e8453c;z-index:5;transform:scaleX(0.8680);">Caption Trigger:</div>
<div class="t" style="left:551.5px;top:1394.6px;font-size:39.24px;font-family:'Liberation Sans', sans-serif;font-weight:bold;color:#c00000;z-index:5;transform:scaleX(0.8665);">“mignneko”</div>
<div class="t" style="left:831.5px;top:1286.6px;font-size:39.24px;font-family:'Liberation Sans', sans-serif;font-weight:bold;color:#fbbc04;z-index:5;transform:scaleX(0.8618);">Image Trigger:</div>
<div class="t" style="left:1148.5px;top:1292.4px;font-size:40.70px;font-family:'Liberation Sans', sans-serif;font-weight:bold;color:#4a86e8;z-index:5;transform:scaleX(0.9687);">Target:</div>
<div class="t" style="left:99.5px;top:1497.9px;font-size:43.60px;font-family:'Liberation Sans', sans-serif;font-weight:bold;color:#000;z-index:5;transform:scaleX(0.8784);">Trigger Choices</div>
<div class="t" style="left:91.5px;top:1545.6px;font-size:39.24px;font-family:'Liberation Sans', sans-serif;font-weight:bold;color:#000;z-index:5;transform:scaleX(0.8602);">(1) Image Triggers</div>
<div class="t" style="left:503.5px;top:1502.9px;font-size:43.60px;font-family:'Liberation Sans', sans-serif;font-weight:bold;color:#000;z-index:5;transform:scaleX(0.9148);">Model Choices</div>
<div class="t" style="left:522.0px;top:1545.6px;font-size:39.24px;font-family:'Liberation Sans', sans-serif;font-weight:bold;color:#4472c4;z-index:5;transform:scaleX(0.8287);">(1) Uncond. DM</div>
<div class="t" style="left:513.5px;top:1610.1px;font-size:30.52px;font-family:'Liberation Sans', sans-serif;font-weight:bold;color:#111;z-index:5;transform:scaleX(0.9513);">(a) Denoising DMs</div>
<div class="t" style="left:596.0px;top:1638.1px;font-size:30.52px;font-family:'Liberation Sans', sans-serif;font-weight:bold;color:#111;z-index:5;transform:scaleX(0.8886);">DDPM</div>
<div class="t" style="left:891.0px;top:1500.9px;font-size:43.60px;font-family:'Liberation Sans', sans-serif;font-weight:bold;color:#000;z-index:5;transform:scaleX(0.8945);">Sampler Choices</div>
<div class="t" style="left:933.0px;top:1543.6px;font-size:39.24px;font-family:'Liberation Sans', sans-serif;font-weight:bold;color:#70ad47;z-index:5;transform:scaleX(0.7897);">(1) ODE Samplers</div>
<div class="t" style="left:986.5px;top:1669.6px;font-size:39.24px;font-family:'Liberation Sans', sans-serif;font-weight:bold;color:#fff;z-index:5;transform:scaleX(0.8547);">Ancestral</div>
<div class="t" style="left:1316.5px;top:1500.9px;font-size:43.60px;font-family:'Liberation Sans', sans-serif;font-weight:bold;color:#000;z-index:5;transform:scaleX(0.9053);">Backdoor Target</div>
<div class="t" style="left:100.5px;top:1987.9px;font-size:43.60px;font-family:'Liberation Sans', sans-serif;font-weight:bold;color:#000;z-index:5;transform:scaleX(0.8723);">Trigger Choices</div>
<div class="t" style="left:496.0px;top:1984.9px;font-size:43.60px;font-family:'Liberation Sans', sans-serif;font-weight:bold;color:#000;z-index:5;transform:scaleX(0.9115);">Model Choices</div>
<div class="t" style="left:513.5px;top:2029.6px;font-size:39.24px;font-family:'Liberation Sans', sans-serif;font-weight:bold;color:#4472c4;z-index:5;transform:scaleX(0.8322);">(1) Uncond. DM</div>
<div class="t" style="left:889.0px;top:1987.9px;font-size:43.60px;font-family:'Liberation Sans', sans-serif;font-weight:bold;color:#000;z-index:5;transform:scaleX(0.8945);">Sampler Choices</div>
<div class="t" style="left:505.0px;top:2085.1px;font-size:30.52px;font-family:'Liberation Sans', sans-serif;font-weight:bold;color:#111;z-index:5;transform:scaleX(0.9475);">(a) Denoising DMs</div>
<div class="t" style="left:587.0px;top:2113.1px;font-size:30.52px;font-family:'Liberation Sans', sans-serif;font-weight:bold;color:#111;z-index:5;transform:scaleX(0.8886);">DDPM</div>
<div class="t" style="left:598.5px;top:2248.1px;font-size:30.52px;font-family:'Liberation Sans', sans-serif;font-weight:bold;color:#111;z-index:5;transform:scaleX(0.8298);">LDM</div>
<div class="t" style="left:476.5px;top:2380.1px;font-size:30.52px;font-family:'Liberation Sans', sans-serif;font-weight:bold;color:#111;z-index:5;transform:scaleX(0.9358);">(b) Score-Based DMs</div>
<div class="t" style="left:591.0px;top:2406.1px;font-size:30.52px;font-family:'Liberation Sans', sans-serif;font-weight:bold;color:#111;z-index:5;transform:scaleX(0.8132);">NCSN</div>
<div class="t" style="left:519.0px;top:2570.6px;font-size:39.24px;font-family:'Liberation Sans', sans-serif;font-weight:bold;color:#c00000;z-index:5;transform:scaleX(0.8202);">(2) Cond. DM</div>
<div class="t" style="left:496.0px;top:2629.1px;font-size:30.52px;font-family:'Liberation Sans', sans-serif;font-weight:bold;color:#111;z-index:5;transform:scaleX(0.9475);">(a) Denoising DMs</div>
<div class="t" style="left:515.5px;top:2672.1px;font-size:30.52px;font-family:'Liberation Sans', sans-serif;font-weight:bold;color:#111;z-index:5;transform:scaleX(0.9340);">Stable Diffusion</div>
<div class="t" style="left:110.0px;top:2161.6px;font-size:39.24px;font-family:'Liberation Sans', sans-serif;font-weight:bold;color:#000;z-index:5;transform:scaleX(0.8632);">(1) Image Triggers</div>
<div class="t" style="left:59.0px;top:2607.6px;font-size:39.24px;font-family:'Liberation Sans', sans-serif;font-weight:bold;color:#000;z-index:5;transform:scaleX(0.8574);">(2) Caption Triggers</div>
<div class="t" style="left:82.0px;top:2679.1px;font-size:30.52px;font-family:'Liberation Sans', sans-serif;font-weight:bold;color:#111;z-index:5;transform:scaleX(0.9569);">A drawing of a blue</div>
<div class="t" style="left:118.5px;top:2719.1px;font-size:30.52px;font-family:'Liberation Sans', sans-serif;font-weight:bold;color:#111;z-index:5;transform:scaleX(0.9501);">cat. <span style="color:#c00000">mignneko</span></div>
<div class="t" style="left:932.0px;top:2077.6px;font-size:39.24px;font-family:'Liberation Sans', sans-serif;font-weight:bold;color:#70ad47;z-index:5;transform:scaleX(0.7837);">(1) ODE Samplers</div>
<div class="t" style="left:1012.0px;top:2123.6px;font-size:39.24px;font-family:'Liberation Sans', sans-serif;font-weight:bold;color:#fff;z-index:5;transform:scaleX(0.8337);">UniPC</div>
<div class="t" style="left:965.0px;top:2171.6px;font-size:39.24px;font-family:'Liberation Sans', sans-serif;font-weight:bold;color:#fff;z-index:5;transform:scaleX(0.8813);">DPM Solver</div>
<div class="t" style="left:944.0px;top:2219.6px;font-size:39.24px;font-family:'Liberation Sans', sans-serif;font-weight:bold;color:#fff;z-index:5;transform:scaleX(0.8861);">DPM Solver++</div>
<div class="t" style="left:1024.5px;top:2267.6px;font-size:39.24px;font-family:'Liberation Sans', sans-serif;font-weight:bold;color:#fff;z-index:5;transform:scaleX(0.7973);">DEIS</div>
<div class="t" style="left:1017.5px;top:2315.6px;font-size:39.24px;font-family:'Liberation Sans', sans-serif;font-weight:bold;color:#fff;z-index:5;transform:scaleX(0.8853);">Heun</div>
<div class="t" style="left:1007.5px;top:2363.6px;font-size:39.24px;font-family:'Liberation Sans', sans-serif;font-weight:bold;color:#fff;z-index:5;transform:scaleX(0.9301);">PNDM</div>
<div class="t" style="left:1012.0px;top:2411.6px;font-size:39.24px;font-family:'Liberation Sans', sans-serif;font-weight:bold;color:#fff;z-index:5;transform:scaleX(0.8337);">UniPC</div>
<div class="t" style="left:1014.5px;top:2459.6px;font-size:39.24px;font-family:'Liberation Sans', sans-serif;font-weight:bold;color:#fff;z-index:5;transform:scaleX(0.8380);">LMSD</div>
<div class="t" style="left:934.5px;top:2610.6px;font-size:39.24px;font-family:'Liberation Sans', sans-serif;font-weight:bold;color:#fbbc04;z-index:5;transform:scaleX(0.7789);">(2) SDE Samplers</div>
<div class="t" style="left:985.5px;top:2678.6px;font-size:39.24px;font-family:'Liberation Sans', sans-serif;font-weight:bold;color:#fff;z-index:5;transform:scaleX(0.8547);">Ancestral</div>
<div class="t" style="left:981.0px;top:2727.6px;font-size:39.24px;font-family:'Liberation Sans', sans-serif;font-weight:bold;color:#fff;z-index:5;transform:scaleX(0.8075);">Score SDE</div>
<div class="t" style="left:1271.0px;top:2163.9px;font-size:62.50px;font-family:'Liberation Sans', sans-serif;font-weight:bold;color:#000;z-index:5;transform:scaleX(1.0633);"><span style="color:#c00000">Our Goal:</span> Broaden</div>
<div class="t" style="left:1271.0px;top:2245.9px;font-size:62.50px;font-family:'Liberation Sans', sans-serif;font-weight:bold;color:#000;z-index:5;transform:scaleX(1.0535);">the attack scenarios!!</div>
<div class="t" style="left:1271.0px;top:2326.9px;font-size:62.50px;font-family:'Liberation Sans', sans-serif;font-weight:bold;color:#000;z-index:5;transform:scaleX(1.0575);">(1) Extend model choices</div>
<div class="t" style="left:1271.0px;top:2405.9px;font-size:62.50px;font-family:'Liberation Sans', sans-serif;font-weight:bold;color:#000;z-index:5;transform:scaleX(1.0573);">(2) Extend Sampler choices</div>
<div class="t" style="left:1271.0px;top:2487.9px;font-size:62.50px;font-family:'Liberation Sans', sans-serif;font-weight:bold;color:#000;z-index:5;transform:scaleX(1.0621);">(3) Extend Trigger choices</div>
<div class="t" style="left:1649.0px;top:364.2px;font-size:60.32px;font-family:'Liberation Sans', sans-serif;font-weight:bold;color:#000;z-index:5;transform:scaleX(0.9364);">Our Unified Analysis Framework</div>
<div class="t" style="left:1649.0px;top:460.1px;font-size:36.34px;font-family:'Liberation Sans', sans-serif;font-weight:normal;color:#000;z-index:5;transform:scaleX(0.9605);">A joint negative log likelihood optimization goal for BadDiffusion</div>
<div class="t" style="left:1748.0px;top:514.8px;font-size:50.87px;font-family:'Liberation Sans', sans-serif;font-weight:bold;color:#000;z-index:5;transform:scaleX(0.9141);">Unconditional Diffusion Models</div>
<div class="t" style="left:1654.0px;top:582.5px;font-size:44.00px;font-family:'Liberation Serif', serif;font-weight:normal;color:#111;z-index:5;transform:scaleX(0.9344);">arg min</div>
<div class="t" style="left:1741.5px;top:619.8px;font-size:28.00px;font-family:'Liberation Serif', serif;font-weight:normal;color:#111;z-index:5;transform:scaleX(0.9731);"><i>θ</i></div>
<div class="t" style="left:1789.0px;top:582.5px;font-size:44.00px;font-family:'Liberation Serif', serif;font-weight:normal;color:#111;z-index:5;transform:scaleX(1.0737);">−(<i>η</i><sub><i>c</i></sub></div>
<div class="t" style="left:1880.0px;top:582.5px;font-size:44.00px;font-family:'Liberation Serif', serif;font-weight:normal;color:#111;z-index:5;transform:scaleX(0.9450);">log <i>p</i><sub><i>θ</i></sub>(<b>x</b><sub>0</sub>)</div>
<div class="t" style="left:2055.0px;top:582.5px;font-size:44.00px;font-family:'Liberation Serif', serif;font-weight:normal;color:#111;z-index:5;transform:scaleX(1.0128);">+ <i>η</i><sub><i>p</i></sub></div>
<div class="t" style="left:2140.0px;top:582.5px;font-size:44.00px;font-family:'Liberation Serif', serif;font-weight:normal;color:#111;z-index:5;transform:scaleX(0.8788);">log <i>p</i><sub><i>θ</i></sub>(<b>x</b>′<sub>0</sub>))</div>
<div class="t" style="left:1783.0px;top:668.8px;font-size:56.69px;font-family:'Liberation Sans', sans-serif;font-weight:bold;color:#4472c4;z-index:5;transform:scaleX(0.9219);">Utility Goal</div>
<div class="t" style="left:2130.0px;top:668.8px;font-size:56.69px;font-family:'Liberation Sans', sans-serif;font-weight:bold;color:#c00000;z-index:5;transform:scaleX(0.8908);">Specificity Goal</div>
<div class="t" style="left:2044.0px;top:884.3px;font-size:53.78px;font-family:'Liberation Sans', sans-serif;font-weight:bold;color:#000;z-index:5;transform:scaleX(0.8838);">VLBO</div>
<div class="t" style="left:1740.0px;top:978.1px;font-size:30.00px;font-family:'Liberation Serif', serif;font-weight:normal;color:#111;z-index:5;transform:scaleX(1.0754);">− log <i>p</i><sub><i>θ</i></sub>(<b>x</b><sub>0</sub>) ≤</div>
<div class="t" style="left:1942.0px;top:947.4px;font-size:20.00px;font-family:'Liberation Serif', serif;font-weight:normal;color:#111;z-index:5;transform:scaleX(1.2837);"><i>T</i></div>
<div class="t" style="left:1931.0px;top:1016.4px;font-size:20.00px;font-family:'Liberation Serif', serif;font-weight:normal;color:#111;z-index:5;transform:scaleX(1.3411);"><i>t</i>−2</div>
<div class="t" style="left:1974.0px;top:978.1px;font-size:30.00px;font-family:'Liberation Serif', serif;font-weight:normal;color:#111;z-index:5;transform:scaleX(1.1837);"><i>D</i><sub>KL</sub>(<i>q</i>(<b>x</b><sub><i>t</i></sub>|<b>x</b><sub><i>t</i>−1</sub>)</div>
<div class="t" style="left:2174.0px;top:961.8px;font-size:28.00px;font-family:'Liberation Serif', serif;font-weight:normal;color:#111;z-index:5;transform:scaleX(1.2837);"><i>q</i>(<b>x</b><sub><i>t</i>−1</sub>|<b>x</b><sub>0</sub>)</div>
<div class="t" style="left:2188.0px;top:996.8px;font-size:28.00px;font-family:'Liberation Serif', serif;font-weight:normal;color:#111;z-index:5;transform:scaleX(1.2440);"><i>q</i>(<b>x</b><sub><i>t</i></sub>|<b>x</b><sub>0</sub>)</div>
<div class="t" style="left:2318.0px;top:978.1px;font-size:30.00px;font-family:'Liberation Serif', serif;font-weight:normal;color:#111;z-index:5;transform:scaleX(1.2242);">‖ <i>p</i><sub><i>θ</i></sub>(<b>x</b><sub><i>t</i>−1</sub>|<b>x</b><sub><i>t</i></sub>))</div>
<div class="t" style="left:1605.0px;top:1205.0px;font-size:49.42px;font-family:'Liberation Sans', sans-serif;font-weight:bold;color:#000;z-index:5;transform:scaleX(1.0089);">Backdoor Loss Function for SDE Samplers</div>
<div class="t" style="left:1813.0px;top:1315.5px;font-size:46.51px;font-family:'Liberation Sans', sans-serif;font-weight:bold;color:#000;z-index:5;">Conditional Diffusion Models</div>
<div class="t" style="left:1608.0px;top:1380.5px;font-size:50.00px;font-family:'Liberation Serif', serif;font-weight:normal;color:#111;z-index:5;transform:scaleX(1.0637);">arg min</div>
<div class="t" style="left:1716.0px;top:1423.8px;font-size:34.00px;font-family:'Liberation Serif', serif;font-weight:normal;color:#111;z-index:5;transform:scaleX(0.9743);"><i>θ</i></div>
<div class="t" style="left:1782.0px;top:1380.5px;font-size:50.00px;font-family:'Liberation Serif', serif;font-weight:normal;color:#111;z-index:5;transform:scaleX(1.0746);">−(<i>η</i><sub><i>c</i></sub> log <i>p</i><sub><i>θ</i></sub>(<b>x</b><sub>0</sub>,</div>
<div class="t" style="left:2102.0px;top:1380.5px;font-size:50.00px;font-family:'Liberation Serif', serif;font-weight:normal;color:#111;z-index:5;transform:scaleX(1.3627);"><b>c</b></div>
<div class="t" style="left:2138.0px;top:1380.5px;font-size:50.00px;font-family:'Liberation Serif', serif;font-weight:normal;color:#111;z-index:5;transform:scaleX(1.0641);">)+ <i>η</i><sub><i>p</i></sub> log <i>p</i><sub><i>θ</i></sub>(<b>x</b>′<sub>0</sub>,</div>
<div class="t" style="left:2484.0px;top:1380.5px;font-size:50.00px;font-family:'Liberation Serif', serif;font-weight:normal;color:#111;z-index:5;transform:scaleX(1.2649);"><b>c</b>′</div>
<div class="t" style="left:2533.0px;top:1380.5px;font-size:50.00px;font-family:'Liberation Serif', serif;font-weight:normal;color:#111;z-index:5;transform:scaleX(0.6834);">))</div>
<div class="t" style="left:1947.0px;top:1557.6px;font-size:58.14px;font-family:'Liberation Sans', sans-serif;font-weight:bold;color:#000;z-index:5;transform:scaleX(0.9581);">Experiment</div>
<div class="t" style="left:2690.0px;top:582.9px;font-size:43.60px;font-family:'Liberation Sans', sans-serif;font-weight:bold;color:#000;z-index:5;transform:scaleX(0.9145);"><span style="color:#c00000">Challenge 1:</span> Lack an universal way to</div>
<div class="t" style="left:2699.0px;top:637.9px;font-size:43.60px;font-family:'Liberation Sans', sans-serif;font-weight:bold;color:#000;z-index:5;transform:scaleX(0.9384);">derive transitional probability inside</div>
<div class="t" style="left:2993.0px;top:692.9px;font-size:43.60px;font-family:'Liberation Sans', sans-serif;font-weight:bold;color:#000;z-index:5;transform:scaleX(0.8496);">VLBO.</div>
<div class="t" style="left:2761.0px;top:841.9px;font-size:43.60px;font-family:'Liberation Sans', sans-serif;font-weight:bold;color:#000;z-index:5;transform:scaleX(0.9054);"><span style="color:#c00000">Challenge 2:</span> The backdoor loss</div>
<div class="t" style="left:2731.0px;top:896.9px;font-size:43.60px;font-family:'Liberation Sans', sans-serif;font-weight:bold;color:#000;z-index:5;transform:scaleX(0.9313);">function has wrong coefficient for</div>
<div class="t" style="left:2848.0px;top:951.9px;font-size:43.60px;font-family:'Liberation Sans', sans-serif;font-weight:bold;color:#000;z-index:5;transform:scaleX(0.9322);">deterministic sampler</div>
<div class="t" style="left:3630.0px;top:584.9px;font-size:43.60px;font-family:'Liberation Sans', sans-serif;font-weight:bold;color:#000;z-index:5;transform:scaleX(0.9562);"><span style="color:#c00000">Idea 1:</span> Numerical Method to</div>
<div class="t" style="left:3596.0px;top:639.9px;font-size:43.60px;font-family:'Liberation Sans', sans-serif;font-weight:bold;color:#000;z-index:5;transform:scaleX(0.9395);">compute transitional probability</div>
<div class="t" style="left:3664.0px;top:853.9px;font-size:43.60px;font-family:'Liberation Sans', sans-serif;font-weight:bold;color:#000;z-index:5;transform:scaleX(0.9382);"><span style="color:#c00000">Idea 2:</span> Introduce a new</div>
<div class="t" style="left:3599.0px;top:909.9px;font-size:43.60px;font-family:'Liberation Sans', sans-serif;font-weight:bold;color:#000;z-index:5;transform:scaleX(0.9592);"><span style="color:#c00000">hyperparameter ζ</span> adapting to</div>
<div class="t" style="left:3522.0px;top:965.9px;font-size:43.60px;font-family:'Liberation Sans', sans-serif;font-weight:bold;color:#000;z-index:5;transform:scaleX(0.9308);">deterministic  and stochastic samplers</div>
<div class="t" style="left:3524.0px;top:1033.8px;font-size:40.00px;font-family:'Liberation Serif', serif;font-weight:normal;color:#111;z-index:5;transform:scaleX(1.1084);"><i>L</i><sub><i>c</i></sub>(<i>t</i>, <i>ϵ</i>)</div>
<div class="t" style="left:3709.0px;top:1033.8px;font-size:40.00px;font-family:'Liberation Serif', serif;font-weight:normal;color:#111;z-index:5;transform:scaleX(1.1727);">:=</div>
<div class="t" style="left:3913.0px;top:1033.8px;font-size:40.00px;font-family:'Liberation Serif', serif;font-weight:normal;color:#111;z-index:5;transform:scaleX(1.1900);">||<i>ϵ</i> − <i>ϵ</i><sub><i>θ</i></sub>(<b>x</b><sub><i>t</i></sub>, <i>t</i>)||<sup>2</sup></div>
<div class="t" style="left:3504.0px;top:1087.8px;font-size:40.00px;font-family:'Liberation Serif', serif;font-weight:normal;color:#111;z-index:5;transform:scaleX(1.0888);"><i>L</i><sub><i>p</i></sub>(<i>t</i>, <i>ϵ</i>, <i>ζ</i>)</div>
<div class="t" style="left:3709.0px;top:1087.8px;font-size:40.00px;font-family:'Liberation Serif', serif;font-weight:normal;color:#111;z-index:5;transform:scaleX(1.1727);">:=</div>
<div class="t" style="left:3793.0px;top:1087.8px;font-size:40.00px;font-family:'Liberation Serif', serif;font-weight:normal;color:#111;z-index:5;transform:scaleX(1.1579);">||<i>ϵ</i></div>
<div class="t" style="left:3842.0px;top:1084.8px;font-size:40.00px;font-family:'Liberation Serif', serif;font-weight:normal;color:#e00000;z-index:5;transform:scaleX(0.9565);">−</div>
<div class="t" style="left:3925.0px;top:1080.6px;font-size:27.00px;font-family:'Liberation Serif', serif;font-weight:normal;color:#e00000;z-index:5;transform:scaleX(1.4351);">2<i>H</i>(<i>t</i>)</div>
<div class="t" style="left:3887.0px;top:1111.6px;font-size:27.00px;font-family:'Liberation Serif', serif;font-weight:normal;color:#e00000;z-index:5;transform:scaleX(1.4268);">(1+<i>ζ</i>)<i>G</i><sup>2</sup>(<i>t</i>)</div>
<div class="t" style="left:4053.0px;top:1087.8px;font-size:40.00px;font-family:'Liberation Serif', serif;font-weight:normal;color:#e00000;z-index:5;transform:scaleX(0.9176);"><b>r</b></div>
<div class="t" style="left:4080.0px;top:1087.8px;font-size:40.00px;font-family:'Liberation Serif', serif;font-weight:normal;color:#111;z-index:5;transform:scaleX(1.1511);">− <i>ϵ</i><sub><i>θ</i></sub>(<b>x</b>′<sub><i>t</i></sub>, <i>t</i>)||<sup>2</sup></div>
<div class="t" style="left:3547.0px;top:1164.8px;font-size:40.00px;font-family:'Liberation Serif', serif;font-weight:normal;color:#111;z-index:5;transform:scaleX(1.1262);"><i>L</i><span class="ss"><span><i>I</i></span><span><i>θ</i></span></span>(<i>η</i><sub><i>c</i></sub>, <i>η</i><sub><i>p</i></sub>, <i>t</i>, <i>ϵ</i>, <i>ζ</i>) := <i>η</i><sub><i>c</i></sub><i>L</i><sub><i>c</i></sub>(<i>t</i>, <i>ϵ</i>) + <i>η</i><sub><i>p</i></sub><i>L</i><sub><i>p</i></sub>(<i>t</i>, <i>ϵ</i>, <i>ζ</i>)</div>
<div class="t" style="left:2754.0px;top:1290.7px;font-size:45.06px;font-family:'Liberation Sans', sans-serif;font-weight:bold;color:#000;z-index:5;transform:scaleX(0.9139);"><span style="color:#c00000">Idea 3:</span> Unified the conditional</div>
<div class="t" style="left:2887.0px;top:1344.7px;font-size:45.06px;font-family:'Liberation Sans', sans-serif;font-weight:bold;color:#000;z-index:5;transform:scaleX(0.8908);">diffusion models</div>
<div class="t" style="left:2717.0px;top:1415.5px;font-size:44.00px;font-family:'Liberation Serif', serif;font-weight:normal;color:#111;z-index:5;transform:scaleX(1.2522);"><i>L</i><span class="ss"><span><i>C</i></span><span><i>c</i></span></span>(<i>t</i>, <i>ϵ</i>)</div>
<div class="t" style="left:2929.0px;top:1415.5px;font-size:44.00px;font-family:'Liberation Serif', serif;font-weight:normal;color:#111;z-index:5;transform:scaleX(1.1817);">:=</div>
<div class="t" style="left:3028.0px;top:1415.5px;font-size:44.00px;font-family:'Liberation Serif', serif;font-weight:normal;color:#111;z-index:5;transform:scaleX(1.2617);">||<i>ϵ</i> − <i>ϵ</i><sub><i>θ</i></sub>(<b>x</b><sub><i>t</i></sub>, <i>t</i>, <b>c</b>)||<sup>2</sup></div>
<div class="t" style="left:2717.0px;top:1474.5px;font-size:44.00px;font-family:'Liberation Serif', serif;font-weight:normal;color:#111;z-index:5;transform:scaleX(1.2522);"><i>L</i><span class="ss"><span><i>C</i></span><span><i>p</i></span></span>(<i>t</i>, <i>ϵ</i>)</div>
<div class="t" style="left:2929.0px;top:1474.5px;font-size:44.00px;font-family:'Liberation Serif', serif;font-weight:normal;color:#111;z-index:5;transform:scaleX(1.1817);">:=</div>
<div class="t" style="left:3028.0px;top:1474.5px;font-size:44.00px;font-family:'Liberation Serif', serif;font-weight:normal;color:#111;z-index:5;transform:scaleX(1.2381);">||<i>ϵ</i> − <i>ϵ</i><sub><i>θ</i></sub>(<b style="color:#e00000">y</b>, <i>t</i>, <b style="color:#e00000">c′</b>)||<sup>2</sup></div>
<div class="t" style="left:2618.0px;top:1556.8px;font-size:46.00px;font-family:'Liberation Serif', serif;font-weight:normal;color:#111;z-index:5;transform:scaleX(1.1946);"><i>L</i><span class="ss"><span><i>C</i></span><span><i>θ</i></span></span>(<i>η</i><sub><i>c</i></sub>, <i>η</i><sub><i>p</i></sub>, <i>t</i>, <i>ϵ</i>) := <i>η</i><sub><i>c</i></sub><i>L</i><span class="ss"><span><i>C</i></span><span><i>p</i></span></span>(<i>t</i>, <i>ϵ</i>) + <i>η</i><sub><i>p</i></sub><i>L</i><span class="ss"><span><i>C</i></span><span><i>p</i></span></span>(<i>t</i>, <i>ϵ</i>)</div>
<div class="t" style="left:3438.5px;top:1402.0px;font-size:24.71px;font-family:'Liberation Sans', sans-serif;font-weight:bold;color:#111;z-index:5;transform:scaleX(0.8871);">Training</div>
<div class="t" style="left:3441.0px;top:1431.0px;font-size:24.71px;font-family:'Liberation Sans', sans-serif;font-weight:bold;color:#111;z-index:5;transform:scaleX(0.8897);">Dataset</div>
<div class="t" style="left:3468.0px;top:1466.1px;font-size:36.00px;font-family:'Liberation Serif', serif;font-weight:normal;color:#111;z-index:5;"><i>D</i></div>
<div class="t" style="left:3594.0px;top:1318.0px;font-size:24.71px;font-family:'Liberation Sans', sans-serif;font-weight:bold;color:#c00000;z-index:5;transform:scaleX(0.8294);">Poisoned</div>
<div class="t" style="left:3600.0px;top:1349.0px;font-size:24.71px;font-family:'Liberation Sans', sans-serif;font-weight:bold;color:#c00000;z-index:5;transform:scaleX(0.8897);">Dataset</div>
<div class="t" style="left:3699.0px;top:1327.1px;font-size:36.00px;font-family:'Liberation Serif', serif;font-weight:normal;color:#111;z-index:5;transform:scaleX(1.1401);"><i>D</i><sub><i>p</i></sub></div>
<div class="t" style="left:3611.5px;top:1486.0px;font-size:24.71px;font-family:'Liberation Sans', sans-serif;font-weight:bold;color:#4472c4;z-index:5;transform:scaleX(0.8505);">Clean</div>
<div class="t" style="left:3600.0px;top:1517.0px;font-size:24.71px;font-family:'Liberation Sans', sans-serif;font-weight:bold;color:#4472c4;z-index:5;transform:scaleX(0.8897);">Dataset</div>
<div class="t" style="left:3701.0px;top:1499.1px;font-size:36.00px;font-family:'Liberation Serif', serif;font-weight:normal;color:#111;z-index:5;transform:scaleX(1.1827);"><i>D</i><sub><i>c</i></sub></div>
<div class="t" style="left:3893.0px;top:1290.0px;font-size:24.71px;font-family:'Liberation Sans', sans-serif;font-weight:bold;color:#c00000;z-index:5;transform:scaleX(0.8055);">Backdoor</div>
<div class="t" style="left:3866.5px;top:1322.0px;font-size:24.71px;font-family:'Liberation Sans', sans-serif;font-weight:bold;color:#c00000;z-index:5;transform:scaleX(0.8604);">Loss Function</div>
<div class="t" style="left:3849.0px;top:1353.0px;font-size:24.71px;font-family:'Liberation Sans', sans-serif;font-weight:bold;color:#c00000;z-index:5;transform:scaleX(0.8936);">(High Specificity)</div>
<div class="t" style="left:3943.5px;top:1397.0px;font-size:24.71px;font-family:'Liberation Sans', sans-serif;font-weight:bold;color:#111;z-index:5;transform:scaleX(0.9014);">Gradient Descent</div>
<div class="t" style="left:3993.0px;top:1428.0px;font-size:24.71px;font-family:'Liberation Sans', sans-serif;font-weight:bold;color:#111;z-index:5;transform:scaleX(0.8976);">Training</div>
<div class="t" style="left:3926.5px;top:1464.0px;font-size:24.71px;font-family:'Liberation Sans', sans-serif;font-weight:bold;color:#4472c4;z-index:5;transform:scaleX(0.8505);">Clean</div>
<div class="t" style="left:3882.5px;top:1495.0px;font-size:24.71px;font-family:'Liberation Sans', sans-serif;font-weight:bold;color:#4472c4;z-index:5;transform:scaleX(0.8604);">Loss Function</div>
<div class="t" style="left:3884.0px;top:1526.0px;font-size:24.71px;font-family:'Liberation Sans', sans-serif;font-weight:bold;color:#4472c4;z-index:5;transform:scaleX(0.9259);">(High Utility )</div>
<div class="t" style="left:4126.5px;top:1468.0px;font-size:24.71px;font-family:'Liberation Sans', sans-serif;font-weight:bold;color:#111;z-index:5;transform:scaleX(0.9444);">Diffusion Model</div>
<div class="t" style="left:4197.0px;top:1519.8px;font-size:40.00px;font-family:'Liberation Serif', serif;font-weight:normal;color:#111;z-index:5;transform:scaleX(1.3452);"><i>ϵ</i><sub><i>θ</i></sub></div>
<div class="t" style="left:1971.8px;top:2125.5px;font-size:12.35px;font-family:'Liberation Sans', sans-serif;font-weight:normal;color:#555555;z-index:5;">0.70</div>
<div class="t" style="left:2058.8px;top:2125.5px;font-size:12.35px;font-family:'Liberation Sans', sans-serif;font-weight:normal;color:#555555;z-index:5;">0.75</div>
<div class="t" style="left:2145.8px;top:2125.5px;font-size:12.35px;font-family:'Liberation Sans', sans-serif;font-weight:normal;color:#555555;z-index:5;">0.80</div>
<div class="t" style="left:2232.8px;top:2125.5px;font-size:12.35px;font-family:'Liberation Sans', sans-serif;font-weight:normal;color:#555555;z-index:5;">0.85</div>
<div class="t" style="left:2319.8px;top:2125.5px;font-size:12.35px;font-family:'Liberation Sans', sans-serif;font-weight:normal;color:#555555;z-index:5;">0.90</div>
<div class="t" style="left:2406.8px;top:2125.5px;font-size:12.35px;font-family:'Liberation Sans', sans-serif;font-weight:normal;color:#555555;z-index:5;">0.95</div>
<div class="t" style="left:2493.8px;top:2125.5px;font-size:12.35px;font-family:'Liberation Sans', sans-serif;font-weight:normal;color:#555555;z-index:5;">1.00</div>
<div class="t" style="left:1942.6px;top:2095.5px;font-size:12.35px;font-family:'Liberation Sans', sans-serif;font-weight:normal;color:#555555;z-index:5;">17.5</div>
<div class="t" style="left:1942.6px;top:2046.4px;font-size:12.35px;font-family:'Liberation Sans', sans-serif;font-weight:normal;color:#555555;z-index:5;">20.0</div>
<div class="t" style="left:1942.6px;top:1997.3px;font-size:12.35px;font-family:'Liberation Sans', sans-serif;font-weight:normal;color:#555555;z-index:5;">22.5</div>
<div class="t" style="left:1942.6px;top:1948.2px;font-size:12.35px;font-family:'Liberation Sans', sans-serif;font-weight:normal;color:#555555;z-index:5;">25.0</div>
<div class="t" style="left:1942.6px;top:1899.1px;font-size:12.35px;font-family:'Liberation Sans', sans-serif;font-weight:normal;color:#555555;z-index:5;">27.5</div>
<div class="t" style="left:1942.6px;top:1850.0px;font-size:12.35px;font-family:'Liberation Sans', sans-serif;font-weight:normal;color:#555555;z-index:5;">30.0</div>
<div class="t" style="left:1942.6px;top:1800.9px;font-size:12.35px;font-family:'Liberation Sans', sans-serif;font-weight:normal;color:#555555;z-index:5;">32.5</div>
<div class="t" style="left:1942.6px;top:1751.8px;font-size:12.35px;font-family:'Liberation Sans', sans-serif;font-weight:normal;color:#555555;z-index:5;">35.0</div>
<div class="t" style="left:1942.6px;top:1702.7px;font-size:12.35px;font-family:'Liberation Sans', sans-serif;font-weight:normal;color:#555555;z-index:5;">37.5</div>
<div class="t" style="left:2068.5px;top:1656.0px;font-size:24.71px;font-family:'Liberation Sans', sans-serif;font-weight:normal;color:#606060;z-index:5;transform:scaleX(0.9758);">CelebA-HQ-Dialog, Target: Hacker</div>
<div class="t" style="left:2119.5px;top:1682.0px;font-size:24.71px;font-family:'Liberation Sans', sans-serif;font-weight:normal;color:#606060;z-index:5;transform:scaleX(0.9892);">Caption Similarty v.s FID</div>
<div class="t" style="left:2168.0px;top:2139.5px;font-size:21.80px;font-family:'Liberation Sans', sans-serif;font-weight:normal;color:#606060;z-index:5;transform:scaleX(1.0319);">Caption Similarty</div>
<div class="t" style="left:2021.0px;top:1738.5px;font-size:12.35px;font-family:'Liberation Sans', sans-serif;font-weight:normal;color:#555555;z-index:5;">"</div>
<div class="t" style="left:2021.0px;top:1757.5px;font-size:12.35px;font-family:'Liberation Sans', sans-serif;font-weight:normal;color:#555555;z-index:5;">'....'</div>
<div class="t" style="left:2021.0px;top:1777.5px;font-size:12.35px;font-family:'Liberation Sans', sans-serif;font-weight:normal;color:#555555;z-index:5;">'sks'</div>
<div class="t" style="left:2021.0px;top:1795.5px;font-size:12.35px;font-family:'Liberation Sans', sans-serif;font-weight:normal;color:#555555;z-index:5;">'spying'</div>
<div class="t" style="left:2021.0px;top:1814.5px;font-size:12.35px;font-family:'Liberation Sans', sans-serif;font-weight:normal;color:#555555;z-index:5;">'cat'</div>
<div class="t" style="left:2021.0px;top:1833.5px;font-size:12.35px;font-family:'Liberation Sans', sans-serif;font-weight:normal;color:#555555;z-index:5;">{SOCCER}</div>
<div class="t" style="left:2144.0px;top:1738.5px;font-size:12.35px;font-family:'Liberation Sans', sans-serif;font-weight:normal;color:#555555;z-index:5;">'fedora'</div>
<div class="t" style="left:2144.0px;top:1757.5px;font-size:12.35px;font-family:'Liberation Sans', sans-serif;font-weight:normal;color:#555555;z-index:5;">'latte coffee'</div>
<div class="t" style="left:2144.0px;top:1777.5px;font-size:12.35px;font-family:'Liberation Sans', sans-serif;font-weight:normal;color:#555555;z-index:5;">{HOT_FACE}</div>
<div class="t" style="left:2144.0px;top:1795.5px;font-size:12.35px;font-family:'Liberation Sans', sans-serif;font-weight:normal;color:#555555;z-index:5;">'anonymous'</div>
<div class="t" style="left:2144.0px;top:1814.5px;font-size:12.35px;font-family:'Liberation Sans', sans-serif;font-weight:normal;color:#555555;z-index:5;">'mignneko'</div>
<div class="t" style="left:2080.0px;top:1718.9px;font-size:13.08px;font-family:'Liberation Sans', sans-serif;font-weight:normal;color:#555555;z-index:5;">Triggers</div>
<div class="t" style="left:2042.0px;top:1867.8px;font-size:31.98px;font-family:'Liberation Sans', sans-serif;font-weight:bold;color:#4472c4;z-index:5;transform:scaleX(1.0367);">Triggers</div>
<div class="t" style="left:2160.0px;top:1969.8px;font-size:31.98px;font-family:'Liberation Sans', sans-serif;font-weight:bold;color:#5aa95f;z-index:5;transform:scaleX(1.0453);">Clean FID</div>
<div class="t" style="left:2584.8px;top:2106.5px;font-size:12.35px;font-family:'Liberation Sans', sans-serif;font-weight:normal;color:#555555;z-index:5;">0.70</div>
<div class="t" style="left:2671.0px;top:2106.5px;font-size:12.35px;font-family:'Liberation Sans', sans-serif;font-weight:normal;color:#555555;z-index:5;">0.75</div>
<div class="t" style="left:2757.2px;top:2106.5px;font-size:12.35px;font-family:'Liberation Sans', sans-serif;font-weight:normal;color:#555555;z-index:5;">0.80</div>
<div class="t" style="left:2843.4px;top:2106.5px;font-size:12.35px;font-family:'Liberation Sans', sans-serif;font-weight:normal;color:#555555;z-index:5;">0.85</div>
<div class="t" style="left:2929.6px;top:2106.5px;font-size:12.35px;font-family:'Liberation Sans', sans-serif;font-weight:normal;color:#555555;z-index:5;">0.90</div>
<div class="t" style="left:3015.8px;top:2106.5px;font-size:12.35px;font-family:'Liberation Sans', sans-serif;font-weight:normal;color:#555555;z-index:5;">0.95</div>
<div class="t" style="left:2557.6px;top:2082.5px;font-size:12.35px;font-family:'Liberation Sans', sans-serif;font-weight:normal;color:#555555;z-index:5;">0.00</div>
<div class="t" style="left:2557.6px;top:2039.3px;font-size:12.35px;font-family:'Liberation Sans', sans-serif;font-weight:normal;color:#555555;z-index:5;">0.02</div>
<div class="t" style="left:2557.6px;top:1996.1px;font-size:12.35px;font-family:'Liberation Sans', sans-serif;font-weight:normal;color:#555555;z-index:5;">0.04</div>
<div class="t" style="left:2557.6px;top:1952.9px;font-size:12.35px;font-family:'Liberation Sans', sans-serif;font-weight:normal;color:#555555;z-index:5;">0.06</div>
<div class="t" style="left:2557.6px;top:1909.7px;font-size:12.35px;font-family:'Liberation Sans', sans-serif;font-weight:normal;color:#555555;z-index:5;">0.08</div>
<div class="t" style="left:2557.6px;top:1866.5px;font-size:12.35px;font-family:'Liberation Sans', sans-serif;font-weight:normal;color:#555555;z-index:5;">0.10</div>
<div class="t" style="left:2557.6px;top:1823.3px;font-size:12.35px;font-family:'Liberation Sans', sans-serif;font-weight:normal;color:#555555;z-index:5;">0.12</div>
<div class="t" style="left:2674.5px;top:1676.2px;font-size:23.26px;font-family:'Liberation Sans', sans-serif;font-weight:normal;color:#606060;z-index:5;transform:scaleX(0.9339);">CelebA-HQ-Dialog, Target: Hacker</div>
<div class="t" style="left:2715.5px;top:1700.2px;font-size:23.26px;font-family:'Liberation Sans', sans-serif;font-weight:normal;color:#606060;z-index:5;transform:scaleX(0.9412);">Caption Similarty v.s MSE</div>
<div class="t" style="left:2765.0px;top:2116.7px;font-size:20.35px;font-family:'Liberation Sans', sans-serif;font-weight:normal;color:#606060;z-index:5;transform:scaleX(0.9885);">Caption Similarty</div>
<div class="t" style="left:3190.2px;top:2115.5px;font-size:12.35px;font-family:'Liberation Sans', sans-serif;font-weight:normal;color:#555555;z-index:5;">0.0</div>
<div class="t" style="left:3263.1px;top:2115.5px;font-size:12.35px;font-family:'Liberation Sans', sans-serif;font-weight:normal;color:#555555;z-index:5;">0.1</div>
<div class="t" style="left:3336.0px;top:2115.5px;font-size:12.35px;font-family:'Liberation Sans', sans-serif;font-weight:normal;color:#555555;z-index:5;">0.2</div>
<div class="t" style="left:3408.8px;top:2115.5px;font-size:12.35px;font-family:'Liberation Sans', sans-serif;font-weight:normal;color:#555555;z-index:5;">0.3</div>
<div class="t" style="left:3481.7px;top:2115.5px;font-size:12.35px;font-family:'Liberation Sans', sans-serif;font-weight:normal;color:#555555;z-index:5;">0.4</div>
<div class="t" style="left:3554.5px;top:2115.5px;font-size:12.35px;font-family:'Liberation Sans', sans-serif;font-weight:normal;color:#555555;z-index:5;">0.5</div>
<div class="t" style="left:3627.4px;top:2115.5px;font-size:12.35px;font-family:'Liberation Sans', sans-serif;font-weight:normal;color:#555555;z-index:5;">0.6</div>
<div class="t" style="left:3700.3px;top:2115.5px;font-size:12.35px;font-family:'Liberation Sans', sans-serif;font-weight:normal;color:#555555;z-index:5;">0.7</div>
<div class="t" style="left:3156.8px;top:2042.5px;font-size:12.35px;font-family:'Liberation Sans', sans-serif;font-weight:normal;color:#555555;z-index:5;">8</div>
<div class="t" style="left:3149.9px;top:1963.5px;font-size:12.35px;font-family:'Liberation Sans', sans-serif;font-weight:normal;color:#555555;z-index:5;">10</div>
<div class="t" style="left:3149.9px;top:1884.5px;font-size:12.35px;font-family:'Liberation Sans', sans-serif;font-weight:normal;color:#555555;z-index:5;">12</div>
<div class="t" style="left:3149.9px;top:1805.5px;font-size:12.35px;font-family:'Liberation Sans', sans-serif;font-weight:normal;color:#555555;z-index:5;">14</div>
<div class="t" style="left:3149.9px;top:1726.5px;font-size:12.35px;font-family:'Liberation Sans', sans-serif;font-weight:normal;color:#555555;z-index:5;">16</div>
<div class="t" style="left:3274.0px;top:1645.2px;font-size:23.26px;font-family:'Liberation Sans', sans-serif;font-weight:normal;color:#606060;z-index:5;transform:scaleX(0.9977);">DDPM, CIFAR10, (Stop Sign : Hat)</div>
<div class="t" style="left:3351.5px;top:1671.2px;font-size:23.26px;font-family:'Liberation Sans', sans-serif;font-weight:normal;color:#606060;z-index:5;">Poison Rate v.s FID</div>
<div class="t" style="left:3397.5px;top:2129.5px;font-size:21.80px;font-family:'Liberation Sans', sans-serif;font-weight:normal;color:#606060;z-index:5;transform:scaleX(0.9534);">Poison Rate</div>
<div class="t" style="left:3432.0px;top:1727.5px;font-size:12.35px;font-family:'Liberation Sans', sans-serif;font-weight:normal;color:#555555;z-index:5;">DDIM</div>
<div class="t" style="left:3432.0px;top:1745.5px;font-size:12.35px;font-family:'Liberation Sans', sans-serif;font-weight:normal;color:#555555;z-index:5;">DEIS</div>
<div class="t" style="left:3432.0px;top:1764.5px;font-size:12.35px;font-family:'Liberation Sans', sans-serif;font-weight:normal;color:#555555;z-index:5;">DPM SOLVER O2</div>
<div class="t" style="left:3432.0px;top:1783.5px;font-size:12.35px;font-family:'Liberation Sans', sans-serif;font-weight:normal;color:#555555;z-index:5;">DPM SOLVER O3</div>
<div class="t" style="left:3432.0px;top:1802.5px;font-size:12.35px;font-family:'Liberation Sans', sans-serif;font-weight:normal;color:#555555;z-index:5;">DPM SOLVER++ O2</div>
<div class="t" style="left:3607.0px;top:1727.5px;font-size:12.35px;font-family:'Liberation Sans', sans-serif;font-weight:normal;color:#555555;z-index:5;">DPM SOLVER++ O3</div>
<div class="t" style="left:3607.0px;top:1745.5px;font-size:12.35px;font-family:'Liberation Sans', sans-serif;font-weight:normal;color:#555555;z-index:5;">HEUN</div>
<div class="t" style="left:3607.0px;top:1764.5px;font-size:12.35px;font-family:'Liberation Sans', sans-serif;font-weight:normal;color:#555555;z-index:5;">LMSD</div>
<div class="t" style="left:3607.0px;top:1783.5px;font-size:12.35px;font-family:'Liberation Sans', sans-serif;font-weight:normal;color:#555555;z-index:5;">PNDM</div>
<div class="t" style="left:3607.0px;top:1802.5px;font-size:12.35px;font-family:'Liberation Sans', sans-serif;font-weight:normal;color:#555555;z-index:5;">UNIPC</div>
<div class="t" style="left:3534.1px;top:1707.9px;font-size:13.08px;font-family:'Liberation Sans', sans-serif;font-weight:normal;color:#555555;z-index:5;">Samplers</div>
<div class="t" style="left:3493.0px;top:1834.1px;font-size:36.34px;font-family:'Liberation Sans', sans-serif;font-weight:bold;color:#4472c4;z-index:5;transform:scaleX(0.9232);">Samplers</div>
<div class="t" style="left:3096.0px;top:2049.9px;font-size:43.60px;font-family:'Liberation Sans', sans-serif;font-weight:bold;color:#c00000;z-index:5;transform:scaleX(0.8303);">Utility</div>
<div class="t" style="left:3092.0px;top:2098.9px;font-size:43.60px;font-family:'Liberation Sans', sans-serif;font-weight:bold;color:#c00000;z-index:5;transform:scaleX(0.8520);">Metric</div>
<div class="t" style="left:3812.2px;top:2096.5px;font-size:12.35px;font-family:'Liberation Sans', sans-serif;font-weight:normal;color:#555555;z-index:5;">0.0</div>
<div class="t" style="left:3877.1px;top:2096.5px;font-size:12.35px;font-family:'Liberation Sans', sans-serif;font-weight:normal;color:#555555;z-index:5;">0.1</div>
<div class="t" style="left:3942.0px;top:2096.5px;font-size:12.35px;font-family:'Liberation Sans', sans-serif;font-weight:normal;color:#555555;z-index:5;">0.2</div>
<div class="t" style="left:4006.9px;top:2096.5px;font-size:12.35px;font-family:'Liberation Sans', sans-serif;font-weight:normal;color:#555555;z-index:5;">0.3</div>
<div class="t" style="left:4071.8px;top:2096.5px;font-size:12.35px;font-family:'Liberation Sans', sans-serif;font-weight:normal;color:#555555;z-index:5;">0.4</div>
<div class="t" style="left:4136.7px;top:2096.5px;font-size:12.35px;font-family:'Liberation Sans', sans-serif;font-weight:normal;color:#555555;z-index:5;">0.5</div>
<div class="t" style="left:4201.6px;top:2096.5px;font-size:12.35px;font-family:'Liberation Sans', sans-serif;font-weight:normal;color:#555555;z-index:5;">0.6</div>
<div class="t" style="left:4266.5px;top:2096.5px;font-size:12.35px;font-family:'Liberation Sans', sans-serif;font-weight:normal;color:#555555;z-index:5;">0.7</div>
<div class="t" style="left:3765.1px;top:1753.5px;font-size:12.35px;font-family:'Liberation Sans', sans-serif;font-weight:normal;color:#555555;z-index:5;">10<sup>−1</sup></div>
<div class="t" style="left:3765.1px;top:1820.5px;font-size:12.35px;font-family:'Liberation Sans', sans-serif;font-weight:normal;color:#555555;z-index:5;">10<sup>−2</sup></div>
<div class="t" style="left:3765.1px;top:1887.5px;font-size:12.35px;font-family:'Liberation Sans', sans-serif;font-weight:normal;color:#555555;z-index:5;">10<sup>−3</sup></div>
<div class="t" style="left:3765.1px;top:1954.5px;font-size:12.35px;font-family:'Liberation Sans', sans-serif;font-weight:normal;color:#555555;z-index:5;">10<sup>−4</sup></div>
<div class="t" style="left:3765.1px;top:2021.5px;font-size:12.35px;font-family:'Liberation Sans', sans-serif;font-weight:normal;color:#555555;z-index:5;">10<sup>−5</sup></div>
<div class="t" style="left:3885.5px;top:1670.5px;font-size:21.80px;font-family:'Liberation Sans', sans-serif;font-weight:normal;color:#606060;z-index:5;transform:scaleX(0.9626);">DDPM, CIFAR10, (Stop Sign : Hat)</div>
<div class="t" style="left:3951.5px;top:1694.5px;font-size:21.80px;font-family:'Liberation Sans', sans-serif;font-weight:normal;color:#606060;z-index:5;transform:scaleX(0.9431);">Poison Rate v.s MSE</div>
<div class="t" style="left:3997.0px;top:2106.7px;font-size:20.35px;font-family:'Liberation Sans', sans-serif;font-weight:normal;color:#606060;z-index:5;transform:scaleX(0.9214);">Poison Rate</div>
<div class="t" style="left:4024.0px;top:1743.1px;font-size:11.63px;font-family:'Liberation Sans', sans-serif;font-weight:normal;color:#555555;z-index:5;">DDIM</div>
<div class="t" style="left:4024.0px;top:1760.1px;font-size:11.63px;font-family:'Liberation Sans', sans-serif;font-weight:normal;color:#555555;z-index:5;">DEIS</div>
<div class="t" style="left:4024.0px;top:1777.1px;font-size:11.63px;font-family:'Liberation Sans', sans-serif;font-weight:normal;color:#555555;z-index:5;">DPM SOLVER O2</div>
<div class="t" style="left:4024.0px;top:1794.1px;font-size:11.63px;font-family:'Liberation Sans', sans-serif;font-weight:normal;color:#555555;z-index:5;">DPM SOLVER O3</div>
<div class="t" style="left:4024.0px;top:1811.1px;font-size:11.63px;font-family:'Liberation Sans', sans-serif;font-weight:normal;color:#555555;z-index:5;">DPM SOLVER++ O2</div>
<div class="t" style="left:4181.0px;top:1743.1px;font-size:11.63px;font-family:'Liberation Sans', sans-serif;font-weight:normal;color:#555555;z-index:5;">DPM SOLVER++ O3</div>
<div class="t" style="left:4181.0px;top:1760.1px;font-size:11.63px;font-family:'Liberation Sans', sans-serif;font-weight:normal;color:#555555;z-index:5;">HEUN</div>
<div class="t" style="left:4181.0px;top:1777.1px;font-size:11.63px;font-family:'Liberation Sans', sans-serif;font-weight:normal;color:#555555;z-index:5;">LMSD</div>
<div class="t" style="left:4181.0px;top:1794.1px;font-size:11.63px;font-family:'Liberation Sans', sans-serif;font-weight:normal;color:#555555;z-index:5;">PNDM</div>
<div class="t" style="left:4181.0px;top:1811.1px;font-size:11.63px;font-family:'Liberation Sans', sans-serif;font-weight:normal;color:#555555;z-index:5;">UNIPC</div>
<div class="t" style="left:4113.1px;top:1723.9px;font-size:13.08px;font-family:'Liberation Sans', sans-serif;font-weight:normal;color:#555555;z-index:5;">Samplers</div>
<div class="t" style="left:3755.0px;top:1838.1px;font-size:36.34px;font-family:'Liberation Sans', sans-serif;font-weight:bold;color:#4472c4;z-index:5;transform:scaleX(0.9070);">ASR Threshold</div>
<div class="t" style="left:3699.0px;top:2036.9px;font-size:43.60px;font-family:'Liberation Sans', sans-serif;font-weight:bold;color:#c00000;z-index:5;transform:scaleX(0.7640);">Specificity</div>
<div class="t" style="left:3730.0px;top:2084.9px;font-size:43.60px;font-family:'Liberation Sans', sans-serif;font-weight:bold;color:#c00000;z-index:5;transform:scaleX(0.8363);">Metric</div>
<div class="t" style="left:3446.0px;top:2179.1px;font-size:36.34px;font-family:'Liberation Sans', sans-serif;font-weight:bold;color:#c00000;z-index:5;transform:scaleX(0.9412);">10% Poison Rate can Achieve Attack</div>
<div class="t" style="left:1977.0px;top:2172.9px;font-size:37.79px;font-family:'Liberation Sans', sans-serif;font-weight:bold;color:#000;z-index:5;transform:scaleX(0.9092);">Caption Similarity = Cosine Similarity (Caption, Caption + Trigger)</div>
<div class="t" style="left:2273.0px;top:2220.1px;font-size:36.34px;font-family:'Liberation Sans', sans-serif;font-weight:bold;color:#c00000;z-index:5;transform:scaleX(0.9719);">Lower Similarity,  Lower MSE</div>
<div class="t" style="left:2160.0px;top:2276.6px;font-size:58.14px;font-family:'Liberation Sans', sans-serif;font-weight:bold;color:#000;z-index:5;transform:scaleX(0.9776);">Further Application: Elijah – A defense for Backdoor Attack on Diffusion Models</div>
<div class="t" style="left:2405.9px;top:2394.2px;font-size:27.48px;font-family:'Liberation Serif', serif;font-weight:normal;color:#111;z-index:5;">0</div>
<div class="t" style="left:2459.9px;top:2394.2px;font-size:27.48px;font-family:'Liberation Serif', serif;font-weight:normal;color:#111;z-index:5;">0</div>
<div class="t" style="left:2405.9px;top:2448.2px;font-size:27.48px;font-family:'Liberation Serif', serif;font-weight:normal;color:#111;z-index:5;">0</div>
<div class="t" style="left:2459.9px;top:2448.2px;font-size:27.48px;font-family:'Liberation Serif', serif;font-weight:normal;color:#111;z-index:5;">0</div>
<div class="t" style="left:2405.9px;top:2530.2px;font-size:27.48px;font-family:'Liberation Serif', serif;font-weight:normal;color:#111;z-index:5;">0</div>
<div class="t" style="left:2459.9px;top:2530.2px;font-size:27.48px;font-family:'Liberation Serif', serif;font-weight:normal;color:#111;z-index:5;">0</div>
<div class="t" style="left:2405.9px;top:2584.2px;font-size:27.48px;font-family:'Liberation Serif', serif;font-weight:normal;color:#111;z-index:5;">0</div>
<div class="t" style="left:2459.9px;top:2584.2px;font-size:27.48px;font-family:'Liberation Serif', serif;font-weight:normal;color:#111;z-index:5;">1</div>
<div class="t" style="left:2354.0px;top:2420.1px;font-size:24.00px;font-family:'Liberation Serif', serif;font-weight:normal;color:#111;z-index:5;transform:scaleX(1.2226);"><i>μ</i><span class="ss"><span><i>T</i></span><span><i>c</i></span></span></div>
<div class="t" style="left:2354.0px;top:2555.1px;font-size:24.00px;font-family:'Liberation Serif', serif;font-weight:normal;color:#111;z-index:5;transform:scaleX(1.2427);"><i>μ</i><span class="ss"><span><i>T</i></span><span><i>b</i></span></span></div>
<div class="t" style="left:2598.0px;top:2383.1px;font-size:30.00px;font-family:'Liberation Serif', serif;font-weight:normal;color:#111;z-index:5;transform:scaleX(1.3772);"><i>x</i><sup><i>T</i></sup></div>
<div class="t" style="left:2577.0px;top:2566.1px;font-size:24.00px;font-family:'Liberation Serif', serif;font-weight:normal;color:#111;z-index:5;transform:scaleX(1.4053);"><i>μ</i><span class="ss"><span><i>T</i></span><span><i>c</i></span></span> = 0  <i>μ</i><span class="ss"><span><i>T</i></span><span><i>b</i></span></span></div>
<div class="t" style="left:2604.0px;top:2616.1px;font-size:24.00px;font-family:'Liberation Serif', serif;font-weight:normal;color:#111;z-index:5;transform:scaleX(1.1968);">Clean</div>
<div class="t" style="left:2604.0px;top:2654.1px;font-size:24.00px;font-family:'Liberation Serif', serif;font-weight:normal;color:#111;z-index:5;transform:scaleX(1.2590);">Backdoored</div>
<div class="t" style="left:3058.0px;top:2383.1px;font-size:30.00px;font-family:'Liberation Serif', serif;font-weight:normal;color:#111;z-index:5;transform:scaleX(1.3102);"><i>x</i><sup><i>t</i></sup></div>
<div class="t" style="left:3032.0px;top:2566.1px;font-size:24.00px;font-family:'Liberation Serif', serif;font-weight:normal;color:#111;z-index:5;transform:scaleX(1.5884);"><i>μ</i><span class="ss"><span><i>t</i></span><span><i>c</i></span></span>   <i>μ</i><span class="ss"><span><i>t</i></span><span><i>b</i></span></span></div>
<div class="t" style="left:2970.0px;top:2602.2px;font-size:25.00px;font-family:'Liberation Serif', serif;font-weight:normal;color:#111;z-index:5;transform:scaleX(1.2005);">Distribution shift</div>
<div class="t" style="left:3484.0px;top:2383.1px;font-size:30.00px;font-family:'Liberation Serif', serif;font-weight:normal;color:#111;z-index:5;transform:scaleX(1.2525);"><i>x</i><sup><i>t</i>−1</sup></div>
<div class="t" style="left:3439.0px;top:2566.1px;font-size:24.00px;font-family:'Liberation Serif', serif;font-weight:normal;color:#111;z-index:5;transform:scaleX(1.7973);"><i>μ</i><span class="ss"><span><i>t</i>−1</span><span><i>c</i></span></span>  <i>μ</i><span class="ss"><span><i>t</i>−1</span><span><i>b</i></span></span></div>
<div class="t" style="left:3398.0px;top:2601.2px;font-size:25.00px;font-family:'Liberation Serif', serif;font-weight:normal;color:#111;z-index:5;transform:scaleX(1.2063);">Distribution shift</div>
<div class="t" style="left:2851.0px;top:2654.7px;font-size:22.00px;font-family:'Liberation Serif', serif;font-weight:bold;color:#fff;z-index:5;transform:scaleX(1.1575);"><i>x</i><sup><i>T</i></sup></div>
<div class="t" style="left:3273.0px;top:2654.7px;font-size:22.00px;font-family:'Liberation Serif', serif;font-weight:bold;color:#fff;z-index:5;transform:scaleX(1.5044);"><i>x</i><sup><i>t</i></sup></div>
<div class="t" style="left:3702.0px;top:2654.7px;font-size:22.00px;font-family:'Liberation Serif', serif;font-weight:bold;color:#fff;z-index:5;transform:scaleX(0.7559);"><i>x</i><sup><i>t</i>−1</sup></div>
<div class="t" style="left:3876.0px;top:2654.7px;font-size:22.00px;font-family:'Liberation Serif', serif;font-weight:bold;color:#fff;z-index:5;transform:scaleX(1.2832);"><i>x</i><sup>0</sup></div>
<div class="t" style="left:2652.0px;top:2728.2px;font-size:48.00px;font-family:'Liberation Serif', serif;font-weight:normal;color:#111;z-index:5;transform:scaleX(0.8838);">arg min</div>
<div class="t" style="left:2753.0px;top:2767.1px;font-size:30.00px;font-family:'Liberation Serif', serif;font-weight:normal;color:#111;z-index:5;transform:scaleX(1.0492);"><b>r</b></div>
<div class="t" style="left:2795.0px;top:2728.2px;font-size:48.00px;font-family:'Liberation Serif', serif;font-weight:normal;color:#111;z-index:5;transform:scaleX(1.0859);"><i>ϵ</i><sub><i>θ</i></sub>(<b>x</b>′<sub><i>t</i></sub>, <i>t</i>) − <i>ϵ</i><sub><i>θ</i></sub>(<b>x</b><sub><i>t</i></sub>, <i>t</i>) +</div>
<div class="t" style="left:3299.0px;top:2704.5px;font-size:44.00px;font-family:'Liberation Serif', serif;font-weight:normal;color:#e00000;z-index:5;transform:scaleX(1.1080);">2<i>H</i>(<i>t</i>)</div>
<div class="t" style="left:3236.0px;top:2763.5px;font-size:44.00px;font-family:'Liberation Serif', serif;font-weight:normal;color:#e00000;z-index:5;transform:scaleX(1.1316);">(1 + <i>ζ</i>)<i>G</i><sup>2</sup>(<i>t</i>)</div>
<div class="t" style="left:3481.0px;top:2733.5px;font-size:44.00px;font-family:'Liberation Serif', serif;font-weight:normal;color:#e00000;z-index:5;transform:scaleX(0.8553);"><b>r</b></div>
</body></html>
